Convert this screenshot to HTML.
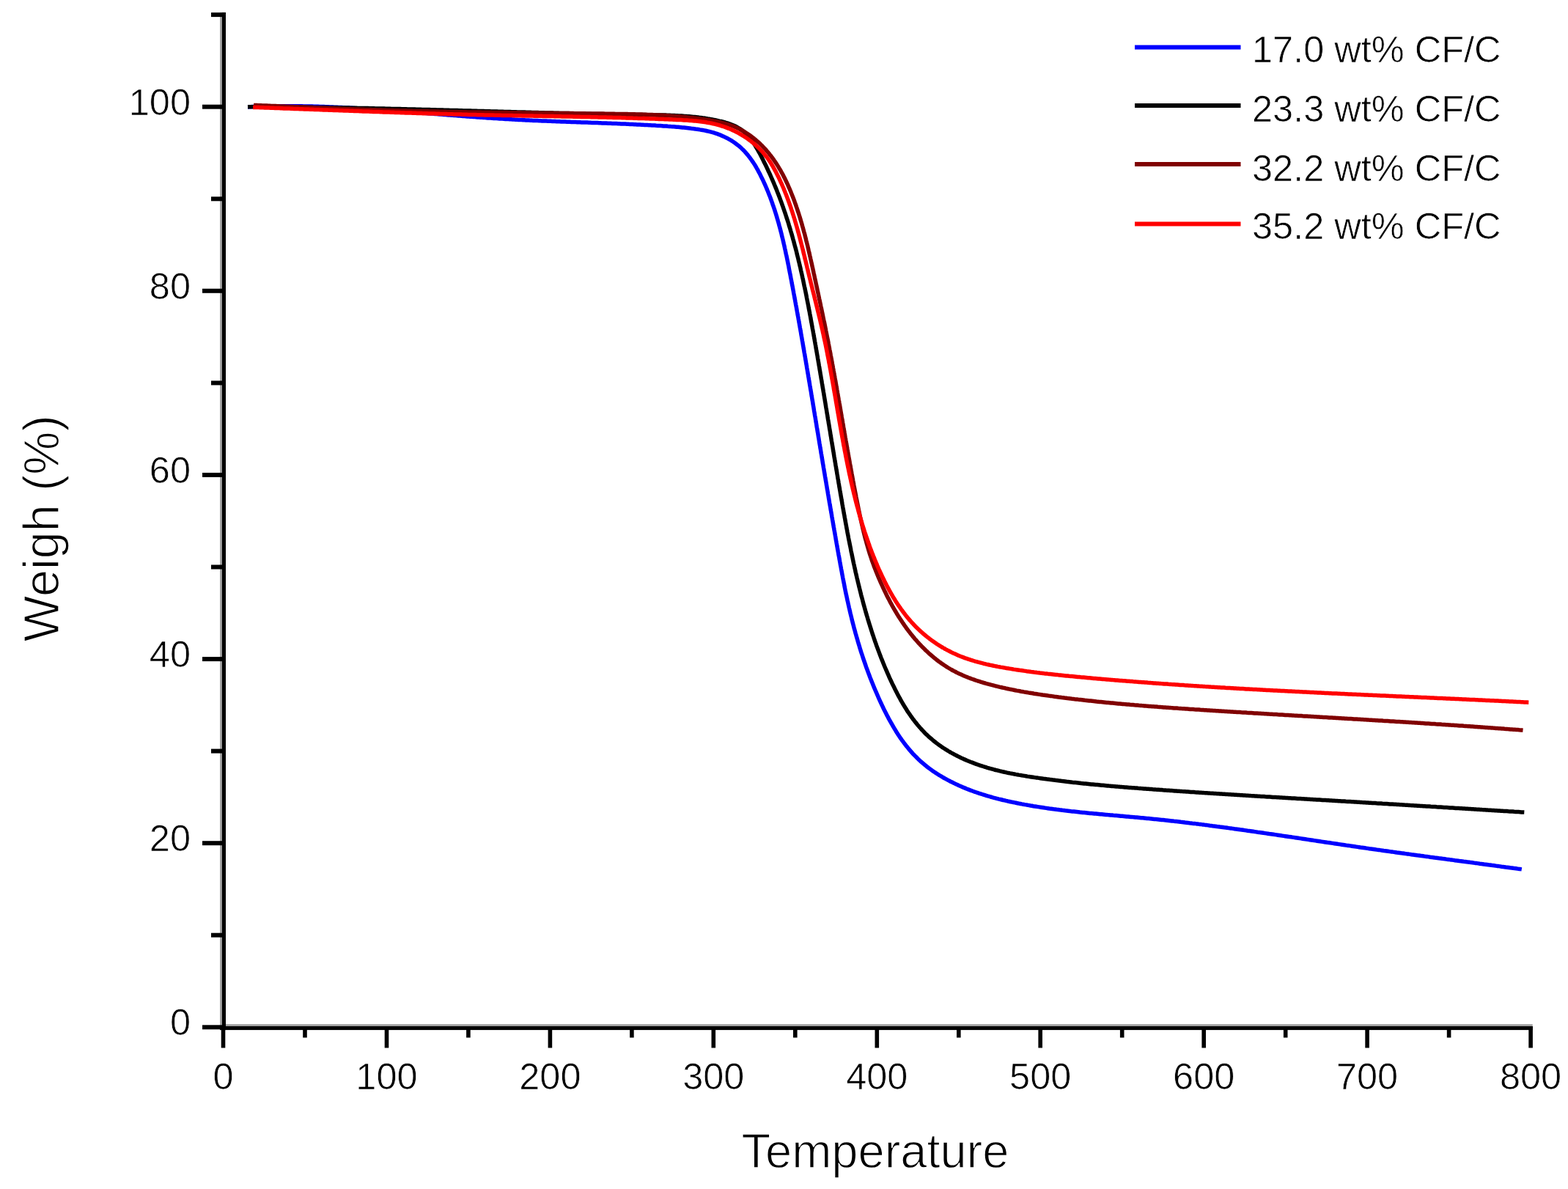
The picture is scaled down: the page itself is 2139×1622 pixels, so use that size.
<!DOCTYPE html>
<html><head><meta charset="utf-8"><title>TGA</title>
<style>
html,body{margin:0;padding:0;background:#fff;}
body{width:2139px;height:1622px;overflow:hidden;}
svg{display:block;}
text{font-family:"Liberation Sans",sans-serif;fill:#000;stroke:#fff;stroke-width:0.7px;paint-order:fill;}
</style></head><body>
<svg width="2139" height="1622" viewBox="0 0 2139 1622">
<rect width="2139" height="1622" fill="#fff"/>
<path d="M338.0 145.9 L340.0 145.8 L342.0 145.7 L344.0 145.6 L346.0 145.5 L348.0 145.4 L350.0 145.4 L352.0 145.3 L354.0 145.2 L356.0 145.2 L358.0 145.1 L360.0 145.1 L362.0 145.0 L364.0 145.0 L366.0 144.9 L368.0 144.9 L370.0 144.8 L372.0 144.8 L374.0 144.8 L376.0 144.8 L378.0 144.7 L380.0 144.7 L382.0 144.7 L384.0 144.7 L386.0 144.7 L388.0 144.7 L390.0 144.7 L392.0 144.7 L394.0 144.7 L396.0 144.7 L398.0 144.7 L400.0 144.7 L402.0 144.7 L404.0 144.7 L406.0 144.7 L408.0 144.8 L410.0 144.8 L412.0 144.8 L414.0 144.9 L416.0 144.9 L418.0 144.9 L420.0 145.0 L422.0 145.0 L424.0 145.1 L426.0 145.1 L428.0 145.2 L430.0 145.2 L432.0 145.3 L433.9 145.3 L435.9 145.4 L437.9 145.5 L439.9 145.5 L441.9 145.6 L443.9 145.7 L445.9 145.8 L447.9 145.8 L449.9 145.9 L451.9 146.0 L453.9 146.1 L455.9 146.2 L457.9 146.2 L459.9 146.3 L461.9 146.4 L463.9 146.5 L465.9 146.6 L467.9 146.7 L469.9 146.8 L471.9 146.9 L473.9 147.0 L475.9 147.1 L477.9 147.2 L479.9 147.3 L481.9 147.4 L483.9 147.6 L485.9 147.7 L487.9 147.8 L489.9 147.9 L491.9 148.0 L493.9 148.1 L495.9 148.3 L497.9 148.4 L499.9 148.5 L501.9 148.6 L503.9 148.8 L505.8 148.9 L507.8 149.0 L509.8 149.2 L511.8 149.3 L513.8 149.4 L515.8 149.6 L517.8 149.7 L519.8 149.8 L521.8 150.0 L523.8 150.1 L525.8 150.3 L527.8 150.4 L529.8 150.5 L531.8 150.7 L533.8 150.8 L535.8 151.0 L537.8 151.1 L539.8 151.3 L541.8 151.4 L543.8 151.6 L545.8 151.7 L547.8 151.9 L549.7 152.0 L551.7 152.2 L553.7 152.3 L555.7 152.5 L557.7 152.6 L559.7 152.8 L561.7 152.9 L563.7 153.1 L565.7 153.3 L567.7 153.4 L569.7 153.6 L571.7 153.7 L573.7 153.9 L575.7 154.0 L577.7 154.2 L579.7 154.3 L581.7 154.5 L583.7 154.7 L585.6 154.8 L587.6 155.0 L589.6 155.1 L591.6 155.3 L593.6 155.5 L595.6 155.6 L597.6 155.8 L599.6 155.9 L601.6 156.1 L603.6 156.2 L605.6 156.4 L607.6 156.6 L609.6 156.7 L611.6 156.9 L613.6 157.0 L615.6 157.2 L617.5 157.3 L619.5 157.5 L621.5 157.6 L623.5 157.8 L625.5 158.0 L627.5 158.1 L629.5 158.3 L631.5 158.4 L633.5 158.6 L635.5 158.7 L637.5 158.9 L639.5 159.0 L641.5 159.2 L643.5 159.3 L645.5 159.4 L647.4 159.6 L649.4 159.7 L651.4 159.9 L653.4 160.0 L655.4 160.2 L657.4 160.3 L659.4 160.4 L661.4 160.6 L663.4 160.7 L665.4 160.9 L667.4 161.0 L669.4 161.1 L671.4 161.3 L673.4 161.4 L675.4 161.5 L677.4 161.6 L679.4 161.8 L681.3 161.9 L683.3 162.0 L685.3 162.1 L687.3 162.3 L689.3 162.4 L691.3 162.5 L693.3 162.6 L695.3 162.7 L697.3 162.8 L699.3 163.0 L701.3 163.1 L703.3 163.2 L705.3 163.3 L707.3 163.4 L709.3 163.5 L711.3 163.6 L713.3 163.7 L715.3 163.8 L717.3 163.9 L719.3 164.0 L721.3 164.1 L723.3 164.2 L725.3 164.3 L727.2 164.4 L729.2 164.4 L731.2 164.5 L733.2 164.6 L735.2 164.7 L737.2 164.8 L739.2 164.9 L741.2 165.0 L743.2 165.0 L745.2 165.1 L747.2 165.2 L749.2 165.3 L751.2 165.3 L753.2 165.4 L755.2 165.5 L757.2 165.6 L759.2 165.7 L761.2 165.7 L763.2 165.8 L765.2 165.9 L767.2 165.9 L769.2 166.0 L771.2 166.1 L773.2 166.2 L775.2 166.2 L777.2 166.3 L779.2 166.4 L781.2 166.4 L783.2 166.5 L785.2 166.6 L787.2 166.7 L789.2 166.7 L791.2 166.8 L793.2 166.9 L795.2 166.9 L797.2 167.0 L799.2 167.1 L801.2 167.1 L803.2 167.2 L805.2 167.3 L807.2 167.4 L809.2 167.4 L811.2 167.5 L813.2 167.6 L815.2 167.6 L817.2 167.7 L819.2 167.8 L821.2 167.9 L823.2 167.9 L825.2 168.0 L827.2 168.1 L829.2 168.2 L831.2 168.2 L833.1 168.3 L835.1 168.4 L837.1 168.5 L839.1 168.5 L841.1 168.6 L843.1 168.7 L845.1 168.8 L847.1 168.9 L849.1 168.9 L851.1 169.0 L853.1 169.1 L855.1 169.2 L857.1 169.3 L859.1 169.4 L861.1 169.5 L863.1 169.6 L865.1 169.7 L867.1 169.8 L869.1 169.9 L871.1 170.0 L873.1 170.1 L875.1 170.2 L877.1 170.3 L879.1 170.4 L881.1 170.5 L883.1 170.6 L885.1 170.7 L887.1 170.8 L889.1 170.9 L891.1 171.0 L893.1 171.1 L895.1 171.3 L897.1 171.4 L899.1 171.5 L901.1 171.6 L903.1 171.7 L905.1 171.9 L907.1 172.0 L909.1 172.1 L911.1 172.3 L913.1 172.4 L915.1 172.6 L917.1 172.7 L919.1 172.8 L921.1 173.0 L923.1 173.2 L925.1 173.3 L927.1 173.5 L929.1 173.7 L931.1 173.9 L933.1 174.1 L935.0 174.3 L937.0 174.5 L939.0 174.7 L941.0 174.9 L943.0 175.2 L944.9 175.4 L946.9 175.7 L948.9 176.0 L950.8 176.2 L952.8 176.5 L954.8 176.9 L956.7 177.2 L958.7 177.5 L960.6 177.9 L962.6 178.3 L964.5 178.7 L966.4 179.1 L968.4 179.6 L970.3 180.1 L972.2 180.6 L974.1 181.2 L976.0 181.8 L977.9 182.4 L979.8 183.1 L981.7 183.8 L983.6 184.6 L985.4 185.4 L987.3 186.2 L989.1 187.1 L990.9 188.0 L992.7 188.9 L994.4 189.9 L996.2 190.9 L997.9 191.9 L999.6 193.0 L1001.3 194.1 L1002.9 195.3 L1004.5 196.5 L1006.1 197.7 L1007.7 198.9 L1009.2 200.2 L1010.7 201.5 L1012.1 202.9 L1013.6 204.3 L1015.0 205.7 L1016.3 207.1 L1017.6 208.6 L1018.9 210.1 L1020.2 211.6 L1021.4 213.2 L1022.7 214.8 L1023.8 216.3 L1025.0 218.0 L1026.1 219.6 L1027.3 221.3 L1028.3 222.9 L1029.4 224.6 L1030.5 226.3 L1031.5 228.0 L1032.5 229.8 L1033.5 231.5 L1034.4 233.3 L1035.4 235.1 L1036.3 236.8 L1037.2 238.6 L1038.1 240.4 L1039.0 242.2 L1039.9 244.0 L1040.8 245.9 L1041.6 247.7 L1042.4 249.5 L1043.3 251.3 L1044.1 253.1 L1044.9 255.0 L1045.7 256.8 L1046.4 258.7 L1047.2 260.5 L1048.0 262.4 L1048.7 264.2 L1049.4 266.1 L1050.2 267.9 L1050.9 269.8 L1051.6 271.7 L1052.2 273.5 L1052.9 275.4 L1053.6 277.3 L1054.2 279.2 L1054.9 281.0 L1055.5 282.9 L1056.2 284.8 L1056.8 286.7 L1057.4 288.6 L1058.0 290.5 L1058.6 292.4 L1059.2 294.3 L1059.7 296.2 L1060.3 298.1 L1060.9 300.1 L1061.4 302.0 L1062.0 303.9 L1062.5 305.8 L1063.0 307.7 L1063.6 309.7 L1064.1 311.6 L1064.6 313.5 L1065.1 315.5 L1065.6 317.4 L1066.1 319.3 L1066.5 321.3 L1067.0 323.2 L1067.5 325.2 L1068.0 327.1 L1068.4 329.0 L1068.9 331.0 L1069.3 332.9 L1069.8 334.9 L1070.2 336.8 L1070.6 338.8 L1071.1 340.8 L1071.5 342.7 L1071.9 344.7 L1072.3 346.6 L1072.8 348.6 L1073.2 350.5 L1073.6 352.5 L1074.0 354.5 L1074.4 356.4 L1074.8 358.4 L1075.2 360.4 L1075.6 362.3 L1076.0 364.3 L1076.3 366.3 L1076.7 368.2 L1077.1 370.2 L1077.5 372.2 L1077.9 374.1 L1078.3 376.1 L1078.6 378.1 L1079.0 380.0 L1079.4 382.0 L1079.8 384.0 L1080.1 385.9 L1080.5 387.9 L1080.9 389.9 L1081.3 391.8 L1081.6 393.8 L1082.0 395.8 L1082.4 397.8 L1082.7 399.7 L1083.1 401.7 L1083.5 403.7 L1083.8 405.6 L1084.2 407.6 L1084.6 409.6 L1084.9 411.5 L1085.3 413.5 L1085.6 415.5 L1086.0 417.4 L1086.4 419.4 L1086.7 421.4 L1087.1 423.4 L1087.4 425.3 L1087.8 427.3 L1088.1 429.3 L1088.5 431.2 L1088.9 433.2 L1089.2 435.2 L1089.6 437.1 L1089.9 439.1 L1090.3 441.1 L1090.6 443.1 L1091.0 445.0 L1091.3 447.0 L1091.7 449.0 L1092.0 450.9 L1092.4 452.9 L1092.7 454.9 L1093.0 456.9 L1093.4 458.8 L1093.7 460.8 L1094.1 462.8 L1094.4 464.7 L1094.8 466.7 L1095.1 468.7 L1095.4 470.6 L1095.8 472.6 L1096.1 474.6 L1096.5 476.6 L1096.8 478.5 L1097.1 480.5 L1097.5 482.5 L1097.8 484.4 L1098.2 486.4 L1098.5 488.4 L1098.8 490.4 L1099.2 492.3 L1099.5 494.3 L1099.8 496.3 L1100.2 498.2 L1100.5 500.2 L1100.8 502.2 L1101.2 504.2 L1101.5 506.1 L1101.8 508.1 L1102.2 510.1 L1102.5 512.0 L1102.8 514.0 L1103.2 516.0 L1103.5 518.0 L1103.8 519.9 L1104.2 521.9 L1104.5 523.9 L1104.8 525.8 L1105.2 527.8 L1105.5 529.8 L1105.8 531.8 L1106.2 533.7 L1106.5 535.7 L1106.8 537.7 L1107.1 539.6 L1107.5 541.6 L1107.8 543.6 L1108.1 545.6 L1108.5 547.5 L1108.8 549.5 L1109.1 551.5 L1109.4 553.4 L1109.8 555.4 L1110.1 557.4 L1110.4 559.4 L1110.7 561.3 L1111.1 563.3 L1111.4 565.3 L1111.7 567.2 L1112.1 569.2 L1112.4 571.2 L1112.7 573.2 L1113.0 575.1 L1113.4 577.1 L1113.7 579.1 L1114.0 581.1 L1114.3 583.0 L1114.7 585.0 L1115.0 587.0 L1115.3 588.9 L1115.7 590.9 L1116.0 592.9 L1116.3 594.8 L1116.6 596.8 L1117.0 598.8 L1117.3 600.8 L1117.6 602.7 L1117.9 604.7 L1118.3 606.7 L1118.6 608.6 L1118.9 610.6 L1119.3 612.6 L1119.6 614.6 L1119.9 616.5 L1120.2 618.5 L1120.6 620.5 L1120.9 622.4 L1121.2 624.4 L1121.6 626.4 L1121.9 628.4 L1122.2 630.3 L1122.5 632.3 L1122.9 634.3 L1123.2 636.2 L1123.5 638.2 L1123.9 640.2 L1124.2 642.2 L1124.5 644.1 L1124.9 646.1 L1125.2 648.1 L1125.5 650.0 L1125.9 652.0 L1126.2 654.0 L1126.5 655.9 L1126.9 657.9 L1127.2 659.9 L1127.5 661.9 L1127.9 663.8 L1128.2 665.8 L1128.5 667.8 L1128.9 669.7 L1129.2 671.7 L1129.5 673.7 L1129.9 675.7 L1130.2 677.6 L1130.5 679.6 L1130.9 681.6 L1131.2 683.5 L1131.5 685.5 L1131.9 687.5 L1132.2 689.4 L1132.6 691.4 L1132.9 693.4 L1133.2 695.4 L1133.6 697.3 L1133.9 699.3 L1134.3 701.3 L1134.6 703.2 L1134.9 705.2 L1135.3 707.2 L1135.6 709.2 L1136.0 711.1 L1136.3 713.1 L1136.6 715.1 L1137.0 717.0 L1137.3 719.0 L1137.7 721.0 L1138.0 723.0 L1138.4 724.9 L1138.7 726.9 L1139.1 728.9 L1139.4 730.8 L1139.8 732.8 L1140.1 734.8 L1140.4 736.8 L1140.8 738.7 L1141.1 740.7 L1141.5 742.7 L1141.8 744.6 L1142.2 746.6 L1142.5 748.6 L1142.9 750.6 L1143.2 752.5 L1143.6 754.5 L1143.9 756.5 L1144.3 758.4 L1144.7 760.4 L1145.0 762.4 L1145.4 764.4 L1145.7 766.3 L1146.1 768.3 L1146.4 770.3 L1146.8 772.2 L1147.2 774.2 L1147.5 776.2 L1147.9 778.1 L1148.3 780.1 L1148.6 782.1 L1149.0 784.1 L1149.4 786.0 L1149.7 788.0 L1150.1 790.0 L1150.5 791.9 L1150.9 793.9 L1151.3 795.9 L1151.7 797.8 L1152.0 799.8 L1152.4 801.7 L1152.8 803.7 L1153.2 805.7 L1153.6 807.6 L1154.0 809.6 L1154.4 811.5 L1154.9 813.5 L1155.3 815.5 L1155.7 817.4 L1156.1 819.4 L1156.6 821.3 L1157.0 823.3 L1157.4 825.2 L1157.9 827.2 L1158.3 829.1 L1158.8 831.1 L1159.2 833.0 L1159.7 835.0 L1160.1 836.9 L1160.6 838.8 L1161.1 840.8 L1161.6 842.7 L1162.0 844.7 L1162.5 846.6 L1163.0 848.5 L1163.5 850.5 L1164.0 852.4 L1164.5 854.3 L1165.0 856.3 L1165.5 858.2 L1166.1 860.1 L1166.6 862.0 L1167.1 864.0 L1167.7 865.9 L1168.2 867.8 L1168.8 869.7 L1169.3 871.6 L1169.9 873.5 L1170.4 875.5 L1171.0 877.4 L1171.6 879.3 L1172.2 881.2 L1172.7 883.1 L1173.3 885.0 L1173.9 886.9 L1174.5 888.8 L1175.1 890.7 L1175.8 892.6 L1176.4 894.5 L1177.0 896.4 L1177.6 898.3 L1178.3 900.2 L1178.9 902.1 L1179.6 903.9 L1180.2 905.8 L1180.9 907.7 L1181.5 909.6 L1182.2 911.5 L1182.9 913.3 L1183.6 915.2 L1184.3 917.1 L1185.0 919.0 L1185.7 920.8 L1186.4 922.7 L1187.1 924.6 L1187.8 926.4 L1188.6 928.3 L1189.3 930.2 L1190.1 932.0 L1190.8 933.9 L1191.6 935.7 L1192.3 937.6 L1193.1 939.4 L1193.9 941.3 L1194.7 943.1 L1195.5 944.9 L1196.3 946.8 L1197.1 948.6 L1197.9 950.5 L1198.7 952.3 L1199.5 954.1 L1200.3 956.0 L1201.2 957.8 L1202.0 959.6 L1202.9 961.4 L1203.8 963.2 L1204.6 965.1 L1205.5 966.9 L1206.4 968.7 L1207.3 970.5 L1208.2 972.3 L1209.1 974.1 L1210.0 975.9 L1211.0 977.7 L1211.9 979.4 L1212.8 981.2 L1213.8 983.0 L1214.8 984.7 L1215.8 986.5 L1216.8 988.2 L1217.8 990.0 L1218.8 991.7 L1219.8 993.4 L1220.8 995.1 L1221.9 996.8 L1222.9 998.5 L1224.0 1000.2 L1225.1 1001.9 L1226.2 1003.6 L1227.3 1005.2 L1228.4 1006.9 L1229.6 1008.5 L1230.7 1010.1 L1231.9 1011.7 L1233.1 1013.3 L1234.3 1014.9 L1235.5 1016.5 L1236.7 1018.0 L1238.0 1019.6 L1239.2 1021.1 L1240.5 1022.6 L1241.8 1024.1 L1243.1 1025.6 L1244.4 1027.1 L1245.7 1028.6 L1247.1 1030.0 L1248.5 1031.4 L1249.9 1032.8 L1251.3 1034.2 L1252.7 1035.6 L1254.1 1037.0 L1255.6 1038.3 L1257.1 1039.6 L1258.6 1040.9 L1260.1 1042.2 L1261.6 1043.5 L1263.1 1044.7 L1264.7 1046.0 L1266.3 1047.2 L1267.9 1048.4 L1269.5 1049.6 L1271.1 1050.7 L1272.8 1051.9 L1274.4 1053.0 L1276.1 1054.1 L1277.8 1055.2 L1279.4 1056.3 L1281.1 1057.4 L1282.9 1058.4 L1284.6 1059.4 L1286.3 1060.5 L1288.1 1061.5 L1289.8 1062.4 L1291.6 1063.4 L1293.4 1064.4 L1295.2 1065.3 L1296.9 1066.2 L1298.8 1067.1 L1300.6 1068.0 L1302.4 1068.9 L1304.2 1069.8 L1306.0 1070.6 L1307.9 1071.5 L1309.7 1072.3 L1311.5 1073.1 L1313.4 1073.9 L1315.2 1074.6 L1317.1 1075.4 L1319.0 1076.2 L1320.8 1076.9 L1322.7 1077.6 L1324.6 1078.3 L1326.5 1079.0 L1328.3 1079.7 L1330.2 1080.4 L1332.1 1081.0 L1334.0 1081.7 L1335.9 1082.3 L1337.8 1082.9 L1339.7 1083.5 L1341.6 1084.1 L1343.5 1084.7 L1345.4 1085.3 L1347.3 1085.9 L1349.3 1086.4 L1351.2 1087.0 L1353.1 1087.5 L1355.0 1088.1 L1357.0 1088.6 L1358.9 1089.1 L1360.8 1089.6 L1362.8 1090.1 L1364.7 1090.5 L1366.6 1091.0 L1368.6 1091.5 L1370.5 1091.9 L1372.5 1092.4 L1374.4 1092.8 L1376.4 1093.3 L1378.3 1093.7 L1380.3 1094.1 L1382.2 1094.5 L1384.2 1094.9 L1386.1 1095.3 L1388.1 1095.7 L1390.0 1096.1 L1392.0 1096.5 L1394.0 1096.9 L1395.9 1097.2 L1397.9 1097.6 L1399.8 1097.9 L1401.8 1098.3 L1403.8 1098.6 L1405.7 1099.0 L1407.7 1099.3 L1409.7 1099.7 L1411.6 1100.0 L1413.6 1100.3 L1415.6 1100.6 L1417.5 1100.9 L1419.5 1101.2 L1421.5 1101.5 L1423.5 1101.8 L1425.4 1102.1 L1427.4 1102.4 L1429.4 1102.7 L1431.4 1103.0 L1433.4 1103.2 L1435.3 1103.5 L1437.3 1103.8 L1439.3 1104.0 L1441.3 1104.3 L1443.3 1104.5 L1445.2 1104.8 L1447.2 1105.0 L1449.2 1105.3 L1451.2 1105.5 L1453.2 1105.8 L1455.2 1106.0 L1457.1 1106.2 L1459.1 1106.4 L1461.1 1106.7 L1463.1 1106.9 L1465.1 1107.1 L1467.1 1107.3 L1469.1 1107.5 L1471.1 1107.7 L1473.1 1108.0 L1475.0 1108.2 L1477.0 1108.4 L1479.0 1108.6 L1481.0 1108.8 L1483.0 1109.0 L1485.0 1109.2 L1487.0 1109.4 L1489.0 1109.5 L1491.0 1109.7 L1493.0 1109.9 L1495.0 1110.1 L1497.0 1110.3 L1499.0 1110.5 L1501.0 1110.7 L1502.9 1110.8 L1504.9 1111.0 L1506.9 1111.2 L1508.9 1111.4 L1510.9 1111.6 L1512.9 1111.7 L1514.9 1111.9 L1516.9 1112.1 L1518.9 1112.3 L1520.9 1112.4 L1522.9 1112.6 L1524.9 1112.8 L1526.9 1113.0 L1528.9 1113.2 L1530.9 1113.3 L1532.9 1113.5 L1534.9 1113.7 L1536.9 1113.9 L1538.9 1114.0 L1540.9 1114.2 L1542.9 1114.4 L1544.9 1114.6 L1546.9 1114.7 L1548.9 1114.9 L1550.8 1115.1 L1552.8 1115.3 L1554.8 1115.5 L1556.8 1115.7 L1558.8 1115.8 L1560.8 1116.0 L1562.8 1116.2 L1564.8 1116.4 L1566.8 1116.6 L1568.8 1116.8 L1570.8 1117.0 L1572.8 1117.2 L1574.8 1117.4 L1576.8 1117.6 L1578.8 1117.8 L1580.7 1118.0 L1582.7 1118.2 L1584.7 1118.4 L1586.7 1118.6 L1588.7 1118.8 L1590.7 1119.1 L1592.7 1119.3 L1594.7 1119.5 L1596.7 1119.7 L1598.7 1119.9 L1600.6 1120.1 L1602.6 1120.4 L1604.6 1120.6 L1606.6 1120.8 L1608.6 1121.0 L1610.6 1121.3 L1612.6 1121.5 L1614.6 1121.7 L1616.5 1122.0 L1618.5 1122.2 L1620.5 1122.4 L1622.5 1122.7 L1624.5 1122.9 L1626.5 1123.2 L1628.5 1123.4 L1630.4 1123.6 L1632.4 1123.9 L1634.4 1124.1 L1636.4 1124.4 L1638.4 1124.6 L1640.4 1124.9 L1642.3 1125.1 L1644.3 1125.4 L1646.3 1125.6 L1648.3 1125.9 L1650.3 1126.2 L1652.3 1126.4 L1654.2 1126.7 L1656.2 1126.9 L1658.2 1127.2 L1660.2 1127.5 L1662.2 1127.7 L1664.2 1128.0 L1666.1 1128.2 L1668.1 1128.5 L1670.1 1128.8 L1672.1 1129.0 L1674.1 1129.3 L1676.0 1129.6 L1678.0 1129.9 L1680.0 1130.1 L1682.0 1130.4 L1684.0 1130.7 L1685.9 1130.9 L1687.9 1131.2 L1689.9 1131.5 L1691.9 1131.8 L1693.9 1132.0 L1695.8 1132.3 L1697.8 1132.6 L1699.8 1132.9 L1701.8 1133.2 L1703.8 1133.4 L1705.7 1133.7 L1707.7 1134.0 L1709.7 1134.3 L1711.7 1134.6 L1713.6 1134.9 L1715.6 1135.2 L1717.6 1135.4 L1719.6 1135.7 L1721.6 1136.0 L1723.5 1136.3 L1725.5 1136.6 L1727.5 1136.9 L1729.5 1137.2 L1731.4 1137.5 L1733.4 1137.7 L1735.4 1138.0 L1737.4 1138.3 L1739.4 1138.6 L1741.3 1138.9 L1743.3 1139.2 L1745.3 1139.5 L1747.3 1139.8 L1749.2 1140.1 L1751.2 1140.4 L1753.2 1140.7 L1755.2 1141.0 L1757.1 1141.3 L1759.1 1141.6 L1761.1 1141.8 L1763.1 1142.1 L1765.1 1142.4 L1767.0 1142.7 L1769.0 1143.0 L1771.0 1143.3 L1773.0 1143.6 L1774.9 1143.9 L1776.9 1144.2 L1778.9 1144.5 L1780.9 1144.8 L1782.8 1145.1 L1784.8 1145.4 L1786.8 1145.7 L1788.8 1146.0 L1790.8 1146.3 L1792.7 1146.6 L1794.7 1146.9 L1796.7 1147.2 L1798.7 1147.5 L1800.6 1147.8 L1802.6 1148.1 L1804.6 1148.4 L1806.6 1148.7 L1808.5 1149.0 L1810.5 1149.3 L1812.5 1149.5 L1814.5 1149.8 L1816.5 1150.1 L1818.4 1150.4 L1820.4 1150.7 L1822.4 1151.0 L1824.4 1151.3 L1826.3 1151.6 L1828.3 1151.9 L1830.3 1152.2 L1832.3 1152.5 L1834.3 1152.8 L1836.2 1153.1 L1838.2 1153.4 L1840.2 1153.6 L1842.2 1153.9 L1844.1 1154.2 L1846.1 1154.5 L1848.1 1154.8 L1850.1 1155.1 L1852.1 1155.4 L1854.0 1155.7 L1856.0 1156.0 L1858.0 1156.2 L1860.0 1156.5 L1862.0 1156.8 L1863.9 1157.1 L1865.9 1157.4 L1867.9 1157.7 L1869.9 1157.9 L1871.9 1158.2 L1873.8 1158.5 L1875.8 1158.8 L1877.8 1159.1 L1879.8 1159.4 L1881.8 1159.6 L1883.7 1159.9 L1885.7 1160.2 L1887.7 1160.5 L1889.7 1160.7 L1891.7 1161.0 L1893.6 1161.3 L1895.6 1161.6 L1897.6 1161.9 L1899.6 1162.1 L1901.6 1162.4 L1903.6 1162.7 L1905.5 1163.0 L1907.5 1163.2 L1909.5 1163.5 L1911.5 1163.8 L1913.5 1164.0 L1915.4 1164.3 L1917.4 1164.6 L1919.4 1164.9 L1921.4 1165.1 L1923.4 1165.4 L1925.4 1165.7 L1927.3 1165.9 L1929.3 1166.2 L1931.3 1166.5 L1933.3 1166.8 L1935.3 1167.0 L1937.3 1167.3 L1939.2 1167.6 L1941.2 1167.8 L1943.2 1168.1 L1945.2 1168.4 L1947.2 1168.6 L1949.2 1168.9 L1951.1 1169.2 L1953.1 1169.4 L1955.1 1169.7 L1957.1 1170.0 L1959.1 1170.2 L1961.1 1170.5 L1963.0 1170.8 L1965.0 1171.0 L1967.0 1171.3 L1969.0 1171.6 L1971.0 1171.8 L1973.0 1172.1 L1974.9 1172.4 L1976.9 1172.6 L1978.9 1172.9 L1980.9 1173.1 L1982.9 1173.4 L1984.8 1173.7 L1986.8 1173.9 L1988.8 1174.2 L1990.8 1174.5 L1992.8 1174.7 L1994.8 1175.0 L1996.7 1175.3 L1998.7 1175.5 L2000.7 1175.8 L2002.7 1176.1 L2004.7 1176.3 L2006.7 1176.6 L2008.6 1176.8 L2010.6 1177.1 L2012.6 1177.4 L2014.6 1177.6 L2016.6 1177.9 L2018.6 1178.2 L2020.5 1178.4 L2022.5 1178.7 L2024.5 1179.0 L2026.5 1179.2 L2028.5 1179.5 L2030.4 1179.8 L2032.4 1180.0 L2034.4 1180.3 L2036.4 1180.6 L2038.4 1180.8 L2040.4 1181.1 L2042.3 1181.4 L2044.3 1181.6 L2046.3 1181.9 L2048.3 1182.2 L2050.3 1182.4 L2052.2 1182.7 L2054.2 1183.0 L2056.2 1183.2 L2058.2 1183.5 L2060.2 1183.8 L2062.1 1184.0 L2064.1 1184.3 L2066.1 1184.6 L2068.1 1184.8 L2070.1 1185.1 L2072.0 1185.4 L2074.0 1185.6 L2075.8 1185.9" fill="none" stroke="#0000ff" stroke-width="5.5" stroke-linejoin="round" stroke-linecap="butt"/>
<path d="M338.0 145.7 L340.0 145.7 L342.0 145.7 L344.0 145.7 L346.0 145.7 L348.0 145.7 L350.0 145.7 L352.0 145.7 L354.0 145.8 L356.0 145.8 L358.0 145.8 L360.0 145.8 L362.0 145.8 L364.0 145.8 L366.0 145.8 L368.0 145.8 L370.0 145.8 L372.0 145.8 L374.0 145.8 L376.0 145.9 L378.0 145.9 L380.0 145.9 L382.0 145.9 L384.0 145.9 L386.0 145.9 L388.0 145.9 L390.0 146.0 L392.0 146.0 L394.0 146.0 L396.0 146.0 L398.0 146.0 L400.0 146.0 L402.0 146.1 L404.0 146.1 L406.0 146.1 L408.0 146.1 L410.0 146.1 L412.0 146.2 L414.0 146.2 L416.0 146.2 L418.0 146.2 L420.0 146.3 L422.0 146.3 L424.0 146.3 L426.0 146.3 L428.0 146.4 L430.0 146.4 L432.0 146.4 L434.0 146.4 L436.0 146.5 L438.0 146.5 L440.0 146.5 L442.0 146.6 L444.0 146.6 L446.0 146.6 L448.0 146.7 L450.0 146.7 L452.0 146.7 L454.0 146.7 L456.0 146.8 L458.0 146.8 L460.0 146.8 L462.0 146.9 L464.0 146.9 L466.0 147.0 L468.0 147.0 L470.0 147.0 L472.0 147.1 L474.0 147.1 L476.0 147.1 L478.0 147.2 L480.0 147.2 L482.0 147.2 L484.0 147.3 L486.0 147.3 L488.0 147.4 L490.0 147.4 L492.0 147.4 L494.0 147.5 L496.0 147.5 L498.0 147.6 L500.0 147.6 L502.0 147.6 L504.0 147.7 L506.0 147.7 L508.0 147.8 L510.0 147.8 L512.0 147.9 L514.0 147.9 L516.0 147.9 L518.0 148.0 L520.0 148.0 L522.0 148.1 L524.0 148.1 L526.0 148.2 L528.0 148.2 L530.0 148.3 L532.0 148.3 L534.0 148.4 L536.0 148.4 L538.0 148.4 L540.0 148.5 L542.0 148.5 L544.0 148.6 L546.0 148.6 L548.0 148.7 L550.0 148.7 L552.0 148.8 L554.0 148.8 L556.0 148.9 L557.9 148.9 L559.9 149.0 L561.9 149.0 L563.9 149.1 L565.9 149.1 L567.9 149.2 L569.9 149.2 L571.9 149.3 L573.9 149.3 L575.9 149.4 L577.9 149.4 L579.9 149.5 L581.9 149.5 L583.9 149.6 L585.9 149.6 L587.9 149.7 L589.9 149.7 L591.9 149.8 L593.9 149.8 L595.9 149.9 L597.9 149.9 L599.9 150.0 L601.9 150.1 L603.9 150.1 L605.9 150.2 L607.9 150.2 L609.9 150.3 L611.9 150.3 L613.9 150.4 L615.9 150.4 L617.9 150.5 L619.9 150.5 L621.9 150.6 L623.9 150.6 L625.9 150.7 L627.9 150.8 L629.9 150.8 L631.9 150.9 L633.9 150.9 L635.9 151.0 L637.9 151.0 L639.9 151.1 L641.9 151.1 L643.9 151.2 L645.9 151.2 L647.9 151.3 L649.9 151.3 L651.9 151.4 L653.9 151.5 L655.9 151.5 L657.9 151.6 L659.9 151.6 L661.9 151.7 L663.9 151.7 L665.9 151.8 L667.9 151.8 L669.9 151.9 L671.9 151.9 L673.9 152.0 L675.9 152.1 L677.9 152.1 L679.9 152.2 L681.9 152.2 L683.9 152.3 L685.9 152.3 L687.9 152.4 L689.9 152.4 L691.9 152.5 L693.9 152.5 L695.9 152.6 L697.9 152.7 L699.9 152.7 L701.9 152.8 L703.9 152.8 L705.9 152.9 L707.9 152.9 L709.9 153.0 L711.9 153.0 L713.9 153.1 L715.9 153.1 L717.9 153.2 L719.8 153.2 L721.8 153.3 L723.8 153.3 L725.8 153.4 L727.8 153.4 L729.8 153.5 L731.8 153.5 L733.8 153.6 L735.8 153.7 L737.8 153.7 L739.8 153.8 L741.8 153.8 L743.8 153.9 L745.8 153.9 L747.8 154.0 L749.8 154.0 L751.8 154.1 L753.8 154.1 L755.8 154.2 L757.8 154.2 L759.8 154.3 L761.8 154.3 L763.8 154.4 L765.8 154.4 L767.8 154.4 L769.8 154.5 L771.8 154.5 L773.8 154.6 L775.8 154.6 L777.8 154.7 L779.8 154.7 L781.8 154.8 L783.8 154.8 L785.8 154.9 L787.8 154.9 L789.8 155.0 L791.8 155.0 L793.8 155.1 L795.8 155.1 L797.8 155.1 L799.8 155.2 L801.8 155.2 L803.8 155.3 L805.8 155.3 L807.8 155.4 L809.8 155.4 L811.8 155.4 L813.8 155.5 L815.8 155.5 L817.8 155.6 L819.8 155.6 L821.8 155.6 L823.9 155.7 L825.9 155.7 L827.9 155.8 L829.9 155.8 L831.9 155.8 L833.9 155.9 L835.9 155.9 L837.9 156.0 L839.9 156.0 L841.9 156.0 L843.9 156.1 L845.9 156.1 L847.9 156.1 L849.9 156.2 L851.9 156.2 L853.9 156.2 L855.9 156.3 L857.9 156.3 L859.9 156.3 L861.9 156.4 L863.9 156.4 L865.9 156.4 L867.9 156.5 L869.9 156.5 L871.9 156.5 L873.9 156.6 L875.9 156.6 L877.9 156.6 L879.9 156.6 L881.9 156.7 L883.9 156.7 L885.9 156.7 L887.9 156.8 L889.9 156.8 L891.9 156.8 L893.9 156.8 L895.9 156.9 L897.9 156.9 L899.9 157.0 L901.9 157.0 L903.9 157.0 L905.9 157.1 L907.9 157.1 L909.9 157.2 L911.9 157.3 L913.9 157.3 L915.9 157.4 L917.9 157.5 L919.9 157.6 L921.9 157.7 L923.9 157.8 L925.9 157.9 L927.9 158.0 L929.9 158.1 L931.9 158.2 L933.9 158.4 L935.9 158.5 L937.9 158.7 L939.8 158.8 L941.8 159.0 L943.8 159.2 L945.8 159.4 L947.8 159.6 L949.8 159.8 L951.8 160.0 L953.8 160.3 L955.7 160.5 L957.7 160.8 L959.7 161.1 L961.7 161.3 L963.7 161.6 L965.6 162.0 L967.6 162.3 L969.6 162.6 L971.5 163.0 L973.5 163.4 L975.5 163.8 L977.5 164.2 L979.4 164.6 L981.4 165.1 L983.4 165.5 L985.3 166.0 L987.3 166.5 L989.2 167.0 L991.1 167.6 L993.0 168.2 L994.9 168.8 L996.8 169.5 L998.6 170.2 L1000.5 171.0 L1002.2 171.8 L1004.0 172.6 L1005.7 173.5 L1007.4 174.5 L1009.1 175.5 L1010.7 176.6 L1012.3 177.7 L1013.8 178.9 L1015.3 180.2 L1016.7 181.5 L1018.1 182.9 L1019.5 184.3 L1020.8 185.8 L1022.1 187.3 L1023.4 188.9 L1024.6 190.5 L1025.8 192.1 L1026.9 193.8 L1028.1 195.4 L1029.2 197.1 L1030.3 198.8 L1031.3 200.5 L1032.4 202.3 L1033.4 204.0 L1034.4 205.8 L1035.4 207.6 L1036.4 209.3 L1037.3 211.1 L1038.3 212.9 L1039.2 214.7 L1040.1 216.5 L1041.0 218.4 L1041.9 220.2 L1042.8 222.0 L1043.7 223.8 L1044.6 225.6 L1045.5 227.4 L1046.3 229.2 L1047.2 231.0 L1048.0 232.9 L1048.9 234.7 L1049.7 236.5 L1050.6 238.3 L1051.4 240.2 L1052.2 242.0 L1053.0 243.8 L1053.8 245.6 L1054.6 247.5 L1055.4 249.3 L1056.1 251.1 L1056.9 253.0 L1057.7 254.8 L1058.4 256.7 L1059.2 258.5 L1059.9 260.4 L1060.6 262.2 L1061.4 264.1 L1062.1 265.9 L1062.8 267.8 L1063.5 269.6 L1064.2 271.5 L1064.9 273.4 L1065.6 275.2 L1066.3 277.1 L1066.9 279.0 L1067.6 280.9 L1068.3 282.7 L1068.9 284.6 L1069.6 286.5 L1070.2 288.4 L1070.9 290.3 L1071.5 292.1 L1072.1 294.0 L1072.7 295.9 L1073.3 297.8 L1074.0 299.7 L1074.6 301.6 L1075.2 303.5 L1075.8 305.4 L1076.3 307.3 L1076.9 309.2 L1077.5 311.1 L1078.1 313.0 L1078.6 315.0 L1079.2 316.9 L1079.8 318.8 L1080.3 320.7 L1080.9 322.6 L1081.4 324.5 L1081.9 326.5 L1082.5 328.4 L1083.0 330.3 L1083.5 332.2 L1084.0 334.2 L1084.5 336.1 L1085.1 338.0 L1085.6 340.0 L1086.1 341.9 L1086.6 343.8 L1087.0 345.8 L1087.5 347.7 L1088.0 349.6 L1088.5 351.6 L1089.0 353.5 L1089.4 355.5 L1089.9 357.4 L1090.4 359.4 L1090.8 361.3 L1091.3 363.2 L1091.8 365.2 L1092.2 367.1 L1092.6 369.1 L1093.1 371.1 L1093.5 373.0 L1094.0 375.0 L1094.4 376.9 L1094.8 378.9 L1095.3 380.8 L1095.7 382.8 L1096.1 384.7 L1096.5 386.7 L1096.9 388.7 L1097.3 390.6 L1097.8 392.6 L1098.2 394.6 L1098.6 396.5 L1099.0 398.5 L1099.4 400.4 L1099.8 402.4 L1100.2 404.4 L1100.5 406.3 L1100.9 408.3 L1101.3 410.3 L1101.7 412.3 L1102.1 414.2 L1102.5 416.2 L1102.9 418.2 L1103.2 420.1 L1103.6 422.1 L1104.0 424.1 L1104.4 426.0 L1104.7 428.0 L1105.1 430.0 L1105.5 432.0 L1105.8 433.9 L1106.2 435.9 L1106.5 437.9 L1106.9 439.9 L1107.3 441.8 L1107.6 443.8 L1108.0 445.8 L1108.3 447.7 L1108.7 449.7 L1109.1 451.7 L1109.4 453.7 L1109.8 455.6 L1110.1 457.6 L1110.5 459.6 L1110.8 461.6 L1111.2 463.5 L1111.5 465.5 L1111.9 467.5 L1112.2 469.5 L1112.6 471.4 L1112.9 473.4 L1113.2 475.4 L1113.6 477.3 L1113.9 479.3 L1114.3 481.3 L1114.6 483.3 L1115.0 485.2 L1115.3 487.2 L1115.6 489.2 L1116.0 491.1 L1116.3 493.1 L1116.7 495.1 L1117.0 497.1 L1117.3 499.0 L1117.7 501.0 L1118.0 503.0 L1118.3 504.9 L1118.7 506.9 L1119.0 508.9 L1119.3 510.9 L1119.7 512.8 L1120.0 514.8 L1120.3 516.8 L1120.7 518.7 L1121.0 520.7 L1121.3 522.7 L1121.7 524.7 L1122.0 526.6 L1122.3 528.6 L1122.7 530.6 L1123.0 532.5 L1123.3 534.5 L1123.7 536.5 L1124.0 538.5 L1124.3 540.4 L1124.6 542.4 L1125.0 544.4 L1125.3 546.3 L1125.6 548.3 L1126.0 550.3 L1126.3 552.3 L1126.6 554.2 L1126.9 556.2 L1127.3 558.2 L1127.6 560.1 L1127.9 562.1 L1128.2 564.1 L1128.6 566.0 L1128.9 568.0 L1129.2 570.0 L1129.5 572.0 L1129.9 573.9 L1130.2 575.9 L1130.5 577.9 L1130.9 579.8 L1131.2 581.8 L1131.5 583.8 L1131.8 585.8 L1132.2 587.7 L1132.5 589.7 L1132.8 591.7 L1133.1 593.6 L1133.5 595.6 L1133.8 597.6 L1134.1 599.5 L1134.4 601.5 L1134.8 603.5 L1135.1 605.5 L1135.4 607.4 L1135.8 609.4 L1136.1 611.4 L1136.4 613.3 L1136.7 615.3 L1137.1 617.3 L1137.4 619.2 L1137.7 621.2 L1138.0 623.2 L1138.4 625.2 L1138.7 627.1 L1139.0 629.1 L1139.4 631.1 L1139.7 633.0 L1140.0 635.0 L1140.4 637.0 L1140.7 639.0 L1141.0 640.9 L1141.4 642.9 L1141.7 644.9 L1142.0 646.8 L1142.4 648.8 L1142.7 650.8 L1143.0 652.7 L1143.4 654.7 L1143.7 656.7 L1144.0 658.7 L1144.4 660.6 L1144.7 662.6 L1145.0 664.6 L1145.4 666.5 L1145.7 668.5 L1146.1 670.5 L1146.4 672.5 L1146.7 674.4 L1147.1 676.4 L1147.4 678.4 L1147.8 680.3 L1148.1 682.3 L1148.5 684.3 L1148.8 686.3 L1149.1 688.2 L1149.5 690.2 L1149.8 692.2 L1150.2 694.1 L1150.5 696.1 L1150.9 698.1 L1151.2 700.1 L1151.6 702.0 L1152.0 704.0 L1152.3 706.0 L1152.7 707.9 L1153.0 709.9 L1153.4 711.9 L1153.7 713.9 L1154.1 715.8 L1154.5 717.8 L1154.8 719.8 L1155.2 721.7 L1155.6 723.7 L1155.9 725.7 L1156.3 727.6 L1156.7 729.6 L1157.1 731.6 L1157.4 733.5 L1157.8 735.5 L1158.2 737.5 L1158.6 739.4 L1159.0 741.4 L1159.4 743.4 L1159.8 745.3 L1160.2 747.3 L1160.6 749.2 L1160.9 751.2 L1161.3 753.2 L1161.8 755.1 L1162.2 757.1 L1162.6 759.1 L1163.0 761.0 L1163.4 763.0 L1163.8 764.9 L1164.2 766.9 L1164.6 768.8 L1165.1 770.8 L1165.5 772.7 L1165.9 774.7 L1166.4 776.6 L1166.8 778.6 L1167.2 780.6 L1167.7 782.5 L1168.1 784.5 L1168.6 786.4 L1169.0 788.3 L1169.5 790.3 L1170.0 792.2 L1170.4 794.2 L1170.9 796.1 L1171.4 798.1 L1171.8 800.0 L1172.3 801.9 L1172.8 803.9 L1173.3 805.8 L1173.8 807.8 L1174.3 809.7 L1174.7 811.6 L1175.2 813.6 L1175.8 815.5 L1176.3 817.4 L1176.8 819.4 L1177.3 821.3 L1177.8 823.2 L1178.3 825.1 L1178.9 827.1 L1179.4 829.0 L1179.9 830.9 L1180.5 832.8 L1181.0 834.8 L1181.6 836.7 L1182.1 838.6 L1182.7 840.5 L1183.3 842.4 L1183.8 844.3 L1184.4 846.2 L1185.0 848.1 L1185.6 850.1 L1186.2 852.0 L1186.8 853.9 L1187.4 855.8 L1188.0 857.7 L1188.6 859.6 L1189.2 861.5 L1189.8 863.4 L1190.4 865.3 L1191.1 867.2 L1191.7 869.0 L1192.3 870.9 L1193.0 872.8 L1193.6 874.7 L1194.3 876.6 L1195.0 878.5 L1195.6 880.4 L1196.3 882.2 L1197.0 884.1 L1197.7 886.0 L1198.4 887.9 L1199.1 889.7 L1199.8 891.6 L1200.5 893.5 L1201.2 895.3 L1201.9 897.2 L1202.7 899.1 L1203.4 900.9 L1204.2 902.8 L1204.9 904.6 L1205.7 906.5 L1206.4 908.3 L1207.2 910.2 L1208.0 912.0 L1208.8 913.9 L1209.6 915.7 L1210.4 917.6 L1211.2 919.4 L1212.0 921.2 L1212.8 923.1 L1213.6 924.9 L1214.5 926.7 L1215.3 928.6 L1216.2 930.4 L1217.0 932.2 L1217.9 934.0 L1218.8 935.8 L1219.7 937.6 L1220.6 939.4 L1221.5 941.2 L1222.4 943.0 L1223.3 944.8 L1224.2 946.6 L1225.2 948.4 L1226.1 950.2 L1227.1 951.9 L1228.1 953.7 L1229.0 955.5 L1230.0 957.2 L1231.0 958.9 L1232.1 960.7 L1233.1 962.4 L1234.1 964.1 L1235.2 965.8 L1236.3 967.5 L1237.3 969.2 L1238.4 970.9 L1239.5 972.5 L1240.7 974.2 L1241.8 975.8 L1242.9 977.4 L1244.1 979.0 L1245.3 980.7 L1246.5 982.2 L1247.7 983.8 L1248.9 985.4 L1250.2 986.9 L1251.4 988.5 L1252.7 990.0 L1254.0 991.5 L1255.3 993.0 L1256.6 994.4 L1257.9 995.9 L1259.3 997.3 L1260.6 998.8 L1262.0 1000.2 L1263.4 1001.6 L1264.9 1002.9 L1266.3 1004.3 L1267.8 1005.6 L1269.3 1006.9 L1270.8 1008.2 L1272.3 1009.5 L1273.8 1010.8 L1275.4 1012.0 L1276.9 1013.2 L1278.5 1014.4 L1280.1 1015.6 L1281.7 1016.8 L1283.4 1017.9 L1285.0 1019.1 L1286.7 1020.2 L1288.4 1021.3 L1290.1 1022.4 L1291.8 1023.4 L1293.5 1024.5 L1295.2 1025.5 L1297.0 1026.5 L1298.7 1027.5 L1300.5 1028.4 L1302.2 1029.4 L1304.0 1030.3 L1305.8 1031.2 L1307.6 1032.1 L1309.4 1033.0 L1311.3 1033.9 L1313.1 1034.7 L1314.9 1035.6 L1316.8 1036.4 L1318.6 1037.2 L1320.5 1038.0 L1322.3 1038.7 L1324.2 1039.5 L1326.1 1040.2 L1327.9 1040.9 L1329.8 1041.6 L1331.7 1042.3 L1333.6 1043.0 L1335.5 1043.7 L1337.4 1044.3 L1339.3 1044.9 L1341.2 1045.5 L1343.1 1046.1 L1345.0 1046.7 L1346.9 1047.3 L1348.8 1047.8 L1350.7 1048.4 L1352.6 1048.9 L1354.6 1049.4 L1356.5 1050.0 L1358.4 1050.5 L1360.4 1050.9 L1362.3 1051.4 L1364.2 1051.9 L1366.2 1052.3 L1368.1 1052.8 L1370.1 1053.2 L1372.0 1053.6 L1374.0 1054.1 L1375.9 1054.5 L1377.9 1054.9 L1379.9 1055.2 L1381.8 1055.6 L1383.8 1056.0 L1385.7 1056.4 L1387.7 1056.7 L1389.7 1057.1 L1391.7 1057.4 L1393.6 1057.8 L1395.6 1058.1 L1397.6 1058.4 L1399.5 1058.7 L1401.5 1059.1 L1403.5 1059.4 L1405.5 1059.7 L1407.4 1060.0 L1409.4 1060.3 L1411.4 1060.6 L1413.4 1060.9 L1415.4 1061.1 L1417.3 1061.4 L1419.3 1061.7 L1421.3 1062.0 L1423.3 1062.3 L1425.3 1062.5 L1427.3 1062.8 L1429.2 1063.1 L1431.2 1063.3 L1433.2 1063.6 L1435.2 1063.8 L1437.2 1064.1 L1439.1 1064.3 L1441.1 1064.6 L1443.1 1064.8 L1445.1 1065.1 L1447.1 1065.3 L1449.1 1065.6 L1451.1 1065.8 L1453.0 1066.0 L1455.0 1066.3 L1457.0 1066.5 L1459.0 1066.7 L1461.0 1066.9 L1463.0 1067.2 L1465.0 1067.4 L1467.0 1067.6 L1468.9 1067.8 L1470.9 1068.0 L1472.9 1068.2 L1474.9 1068.5 L1476.9 1068.7 L1478.9 1068.9 L1480.9 1069.1 L1482.9 1069.3 L1484.9 1069.5 L1486.8 1069.7 L1488.8 1069.9 L1490.8 1070.0 L1492.8 1070.2 L1494.8 1070.4 L1496.8 1070.6 L1498.8 1070.8 L1500.8 1071.0 L1502.8 1071.2 L1504.8 1071.3 L1506.8 1071.5 L1508.7 1071.7 L1510.7 1071.9 L1512.7 1072.1 L1514.7 1072.2 L1516.7 1072.4 L1518.7 1072.6 L1520.7 1072.7 L1522.7 1072.9 L1524.7 1073.1 L1526.7 1073.2 L1528.7 1073.4 L1530.7 1073.6 L1532.7 1073.7 L1534.6 1073.9 L1536.6 1074.0 L1538.6 1074.2 L1540.6 1074.4 L1542.6 1074.5 L1544.6 1074.7 L1546.6 1074.8 L1548.6 1075.0 L1550.6 1075.1 L1552.6 1075.3 L1554.6 1075.4 L1556.6 1075.6 L1558.6 1075.7 L1560.6 1075.9 L1562.6 1076.0 L1564.6 1076.2 L1566.6 1076.3 L1568.6 1076.5 L1570.5 1076.6 L1572.5 1076.8 L1574.5 1076.9 L1576.5 1077.1 L1578.5 1077.2 L1580.5 1077.3 L1582.5 1077.5 L1584.5 1077.6 L1586.5 1077.8 L1588.5 1077.9 L1590.5 1078.1 L1592.5 1078.2 L1594.5 1078.3 L1596.5 1078.5 L1598.5 1078.6 L1600.5 1078.7 L1602.5 1078.9 L1604.5 1079.0 L1606.5 1079.2 L1608.5 1079.3 L1610.4 1079.4 L1612.4 1079.6 L1614.4 1079.7 L1616.4 1079.8 L1618.4 1080.0 L1620.4 1080.1 L1622.4 1080.2 L1624.4 1080.4 L1626.4 1080.5 L1628.4 1080.6 L1630.4 1080.8 L1632.4 1080.9 L1634.4 1081.0 L1636.4 1081.2 L1638.4 1081.3 L1640.4 1081.4 L1642.4 1081.6 L1644.4 1081.7 L1646.4 1081.8 L1648.4 1081.9 L1650.4 1082.1 L1652.4 1082.2 L1654.4 1082.3 L1656.3 1082.5 L1658.3 1082.6 L1660.3 1082.7 L1662.3 1082.8 L1664.3 1083.0 L1666.3 1083.1 L1668.3 1083.2 L1670.3 1083.3 L1672.3 1083.5 L1674.3 1083.6 L1676.3 1083.7 L1678.3 1083.8 L1680.3 1084.0 L1682.3 1084.1 L1684.3 1084.2 L1686.3 1084.3 L1688.3 1084.5 L1690.3 1084.6 L1692.3 1084.7 L1694.3 1084.8 L1696.3 1085.0 L1698.3 1085.1 L1700.3 1085.2 L1702.3 1085.3 L1704.3 1085.4 L1706.3 1085.6 L1708.2 1085.7 L1710.2 1085.8 L1712.2 1085.9 L1714.2 1086.0 L1716.2 1086.2 L1718.2 1086.3 L1720.2 1086.4 L1722.2 1086.5 L1724.2 1086.6 L1726.2 1086.8 L1728.2 1086.9 L1730.2 1087.0 L1732.2 1087.1 L1734.2 1087.2 L1736.2 1087.4 L1738.2 1087.5 L1740.2 1087.6 L1742.2 1087.7 L1744.2 1087.8 L1746.2 1088.0 L1748.2 1088.1 L1750.2 1088.2 L1752.2 1088.3 L1754.2 1088.4 L1756.2 1088.5 L1758.2 1088.7 L1760.2 1088.8 L1762.2 1088.9 L1764.1 1089.0 L1766.1 1089.1 L1768.1 1089.2 L1770.1 1089.4 L1772.1 1089.5 L1774.1 1089.6 L1776.1 1089.7 L1778.1 1089.8 L1780.1 1090.0 L1782.1 1090.1 L1784.1 1090.2 L1786.1 1090.3 L1788.1 1090.4 L1790.1 1090.5 L1792.1 1090.7 L1794.1 1090.8 L1796.1 1090.9 L1798.1 1091.0 L1800.1 1091.1 L1802.1 1091.2 L1804.1 1091.4 L1806.1 1091.5 L1808.1 1091.6 L1810.1 1091.7 L1812.1 1091.8 L1814.1 1092.0 L1816.1 1092.1 L1818.1 1092.2 L1820.0 1092.3 L1822.0 1092.4 L1824.0 1092.5 L1826.0 1092.7 L1828.0 1092.8 L1830.0 1092.9 L1832.0 1093.0 L1834.0 1093.1 L1836.0 1093.3 L1838.0 1093.4 L1840.0 1093.5 L1842.0 1093.6 L1844.0 1093.7 L1846.0 1093.8 L1848.0 1094.0 L1850.0 1094.1 L1852.0 1094.2 L1854.0 1094.3 L1856.0 1094.4 L1858.0 1094.6 L1860.0 1094.7 L1862.0 1094.8 L1864.0 1094.9 L1866.0 1095.0 L1868.0 1095.2 L1870.0 1095.3 L1871.9 1095.4 L1873.9 1095.5 L1875.9 1095.6 L1877.9 1095.8 L1879.9 1095.9 L1881.9 1096.0 L1883.9 1096.1 L1885.9 1096.3 L1887.9 1096.4 L1889.9 1096.5 L1891.9 1096.6 L1893.9 1096.7 L1895.9 1096.9 L1897.9 1097.0 L1899.9 1097.1 L1901.9 1097.2 L1903.9 1097.3 L1905.9 1097.5 L1907.9 1097.6 L1909.9 1097.7 L1911.9 1097.8 L1913.9 1097.9 L1915.9 1098.1 L1917.9 1098.2 L1919.9 1098.3 L1921.9 1098.4 L1923.8 1098.6 L1925.8 1098.7 L1927.8 1098.8 L1929.8 1098.9 L1931.8 1099.0 L1933.8 1099.2 L1935.8 1099.3 L1937.8 1099.4 L1939.8 1099.5 L1941.8 1099.7 L1943.8 1099.8 L1945.8 1099.9 L1947.8 1100.0 L1949.8 1100.1 L1951.8 1100.3 L1953.8 1100.4 L1955.8 1100.5 L1957.8 1100.6 L1959.8 1100.8 L1961.8 1100.9 L1963.8 1101.0 L1965.8 1101.1 L1967.8 1101.2 L1969.8 1101.4 L1971.8 1101.5 L1973.7 1101.6 L1975.7 1101.7 L1977.7 1101.9 L1979.7 1102.0 L1981.7 1102.1 L1983.7 1102.2 L1985.7 1102.4 L1987.7 1102.5 L1989.7 1102.6 L1991.7 1102.7 L1993.7 1102.8 L1995.7 1103.0 L1997.7 1103.1 L1999.7 1103.2 L2001.7 1103.3 L2003.7 1103.5 L2005.7 1103.6 L2007.7 1103.7 L2009.7 1103.8 L2011.7 1103.9 L2013.7 1104.1 L2015.7 1104.2 L2017.7 1104.3 L2019.7 1104.4 L2021.7 1104.6 L2023.6 1104.7 L2025.6 1104.8 L2027.6 1104.9 L2029.6 1105.1 L2031.6 1105.2 L2033.6 1105.3 L2035.6 1105.4 L2037.6 1105.5 L2039.6 1105.7 L2041.6 1105.8 L2043.6 1105.9 L2045.6 1106.0 L2047.6 1106.2 L2049.6 1106.3 L2051.6 1106.4 L2053.6 1106.5 L2055.6 1106.6 L2057.6 1106.8 L2059.6 1106.9 L2061.6 1107.0 L2063.6 1107.1 L2065.6 1107.3 L2067.6 1107.4 L2069.6 1107.5 L2071.6 1107.6 L2073.5 1107.7 L2075.5 1107.9 L2077.5 1108.0 L2079.3 1108.1" fill="none" stroke="#000000" stroke-width="5.5" stroke-linejoin="round" stroke-linecap="butt"/>
<path d="M346.0 143.4 L348.0 143.5 L350.0 143.6 L352.0 143.7 L354.0 143.7 L356.0 143.8 L358.0 143.9 L360.0 144.0 L362.0 144.1 L364.0 144.1 L366.0 144.2 L368.0 144.3 L370.0 144.4 L372.0 144.5 L374.0 144.5 L376.0 144.6 L378.0 144.7 L380.0 144.8 L382.0 144.9 L384.0 144.9 L385.9 145.0 L387.9 145.1 L389.9 145.2 L391.9 145.3 L393.9 145.3 L395.9 145.4 L397.9 145.5 L399.9 145.6 L401.9 145.7 L403.9 145.7 L405.9 145.8 L407.9 145.9 L409.9 146.0 L411.9 146.1 L413.9 146.1 L415.9 146.2 L417.9 146.3 L419.9 146.4 L421.9 146.5 L423.9 146.5 L425.9 146.6 L427.9 146.7 L429.9 146.8 L431.9 146.9 L433.9 146.9 L435.9 147.0 L437.9 147.1 L439.9 147.2 L441.9 147.3 L443.9 147.3 L445.9 147.4 L447.9 147.5 L449.9 147.6 L451.9 147.7 L453.9 147.7 L455.9 147.8 L457.9 147.9 L459.9 148.0 L461.9 148.0 L463.9 148.1 L465.9 148.2 L467.9 148.3 L469.9 148.3 L471.9 148.4 L473.9 148.5 L475.9 148.6 L477.9 148.6 L479.9 148.7 L481.9 148.8 L483.9 148.9 L485.9 148.9 L487.9 149.0 L489.9 149.1 L491.9 149.2 L493.9 149.2 L495.9 149.3 L497.9 149.4 L499.9 149.4 L501.9 149.5 L503.9 149.6 L505.9 149.6 L507.9 149.7 L509.9 149.8 L511.9 149.8 L513.9 149.9 L515.9 150.0 L517.9 150.0 L519.9 150.1 L521.9 150.2 L523.9 150.2 L525.9 150.3 L527.9 150.4 L529.9 150.4 L531.9 150.5 L533.9 150.5 L535.9 150.6 L537.9 150.7 L539.9 150.7 L541.9 150.8 L543.9 150.8 L545.9 150.9 L547.9 150.9 L549.9 151.0 L551.9 151.0 L553.9 151.1 L555.9 151.2 L557.9 151.2 L559.9 151.3 L561.9 151.3 L563.9 151.4 L565.9 151.4 L567.9 151.5 L569.9 151.5 L571.9 151.6 L573.9 151.6 L575.9 151.7 L577.9 151.7 L579.9 151.7 L581.9 151.8 L583.9 151.8 L585.9 151.9 L587.9 151.9 L589.9 152.0 L591.8 152.0 L593.8 152.1 L595.8 152.1 L597.8 152.1 L599.8 152.2 L601.8 152.2 L603.8 152.3 L605.8 152.3 L607.8 152.3 L609.8 152.4 L611.8 152.4 L613.8 152.4 L615.8 152.5 L617.8 152.5 L619.8 152.6 L621.8 152.6 L623.8 152.6 L625.8 152.7 L627.8 152.7 L629.8 152.7 L631.8 152.8 L633.8 152.8 L635.8 152.8 L637.8 152.9 L639.8 152.9 L641.8 152.9 L643.8 153.0 L645.8 153.0 L647.8 153.0 L649.8 153.1 L651.8 153.1 L653.8 153.1 L655.8 153.1 L657.8 153.2 L659.8 153.2 L661.8 153.2 L663.8 153.3 L665.8 153.3 L667.8 153.3 L669.8 153.3 L671.8 153.4 L673.8 153.4 L675.8 153.4 L677.8 153.5 L679.8 153.5 L681.8 153.5 L683.8 153.5 L685.8 153.6 L687.8 153.6 L689.8 153.6 L691.8 153.6 L693.8 153.7 L695.8 153.7 L697.8 153.7 L699.8 153.7 L701.8 153.8 L703.8 153.8 L705.8 153.8 L707.8 153.8 L709.8 153.8 L711.8 153.9 L713.8 153.9 L715.8 153.9 L717.8 153.9 L719.7 154.0 L721.7 154.0 L723.7 154.0 L725.7 154.0 L727.7 154.1 L729.7 154.1 L731.7 154.1 L733.7 154.1 L735.7 154.1 L737.7 154.2 L739.7 154.2 L741.7 154.2 L743.7 154.2 L745.7 154.3 L747.7 154.3 L749.7 154.3 L751.7 154.3 L753.7 154.3 L755.7 154.4 L757.7 154.4 L759.7 154.4 L761.7 154.4 L763.7 154.4 L765.7 154.5 L767.7 154.5 L769.7 154.5 L771.7 154.5 L773.7 154.6 L775.7 154.6 L777.7 154.6 L779.7 154.6 L781.7 154.6 L783.7 154.7 L785.7 154.7 L787.7 154.7 L789.7 154.7 L791.7 154.8 L793.7 154.8 L795.7 154.8 L797.7 154.8 L799.8 154.9 L801.8 154.9 L803.8 154.9 L805.8 154.9 L807.8 154.9 L809.8 155.0 L811.8 155.0 L813.8 155.0 L815.8 155.0 L817.8 155.1 L819.8 155.1 L821.8 155.1 L823.8 155.1 L825.8 155.2 L827.8 155.2 L829.8 155.2 L831.8 155.2 L833.8 155.3 L835.8 155.3 L837.8 155.3 L839.8 155.4 L841.8 155.4 L843.8 155.4 L845.8 155.4 L847.8 155.5 L849.8 155.5 L851.8 155.5 L853.8 155.6 L855.8 155.6 L857.8 155.7 L859.8 155.7 L861.8 155.7 L863.8 155.8 L865.8 155.8 L867.8 155.9 L869.8 155.9 L871.8 156.0 L873.8 156.0 L875.8 156.1 L877.8 156.2 L879.8 156.2 L881.8 156.3 L883.8 156.4 L885.8 156.5 L887.8 156.5 L889.8 156.6 L891.8 156.7 L893.8 156.8 L895.8 156.9 L897.8 157.0 L899.8 157.1 L901.8 157.2 L903.8 157.3 L905.8 157.4 L907.8 157.5 L909.8 157.7 L911.8 157.8 L913.8 157.9 L915.8 158.1 L917.8 158.2 L919.8 158.4 L921.8 158.5 L923.8 158.7 L925.8 158.8 L927.8 159.0 L929.8 159.2 L931.8 159.4 L933.8 159.6 L935.7 159.8 L937.7 160.0 L939.7 160.2 L941.7 160.4 L943.7 160.6 L945.7 160.8 L947.7 161.1 L949.7 161.3 L951.7 161.6 L953.6 161.8 L955.6 162.1 L957.6 162.4 L959.6 162.6 L961.6 162.9 L963.6 163.2 L965.5 163.5 L967.5 163.8 L969.5 164.2 L971.5 164.5 L973.4 164.9 L975.4 165.2 L977.4 165.6 L979.3 166.0 L981.2 166.5 L983.2 166.9 L985.1 167.4 L987.0 167.9 L988.9 168.4 L990.8 169.0 L992.7 169.6 L994.6 170.2 L996.5 170.8 L998.3 171.5 L1000.2 172.2 L1002.0 172.9 L1003.8 173.7 L1005.6 174.5 L1007.4 175.4 L1009.2 176.3 L1010.9 177.2 L1012.7 178.1 L1014.4 179.1 L1016.1 180.1 L1017.8 181.2 L1019.5 182.3 L1021.1 183.4 L1022.8 184.5 L1024.4 185.7 L1026.0 186.9 L1027.6 188.1 L1029.1 189.4 L1030.7 190.7 L1032.2 192.0 L1033.7 193.3 L1035.2 194.6 L1036.7 196.0 L1038.1 197.4 L1039.6 198.8 L1041.0 200.3 L1042.4 201.8 L1043.7 203.2 L1045.1 204.7 L1046.4 206.3 L1047.7 207.8 L1049.0 209.3 L1050.2 210.9 L1051.5 212.5 L1052.7 214.1 L1053.9 215.7 L1055.1 217.3 L1056.2 219.0 L1057.3 220.6 L1058.5 222.3 L1059.6 224.0 L1060.6 225.6 L1061.7 227.4 L1062.7 229.1 L1063.7 230.8 L1064.8 232.5 L1065.7 234.3 L1066.7 236.0 L1067.7 237.8 L1068.6 239.6 L1069.5 241.4 L1070.4 243.1 L1071.3 244.9 L1072.2 246.8 L1073.0 248.6 L1073.9 250.4 L1074.7 252.2 L1075.5 254.1 L1076.3 255.9 L1077.1 257.7 L1077.9 259.6 L1078.7 261.4 L1079.4 263.3 L1080.2 265.2 L1080.9 267.0 L1081.6 268.9 L1082.4 270.8 L1083.1 272.7 L1083.8 274.5 L1084.4 276.4 L1085.1 278.3 L1085.8 280.2 L1086.4 282.1 L1087.1 284.0 L1087.7 285.9 L1088.3 287.8 L1089.0 289.7 L1089.6 291.6 L1090.2 293.5 L1090.8 295.4 L1091.4 297.3 L1091.9 299.2 L1092.5 301.1 L1093.1 303.0 L1093.6 304.9 L1094.2 306.9 L1094.7 308.8 L1095.3 310.7 L1095.8 312.6 L1096.3 314.5 L1096.8 316.5 L1097.4 318.4 L1097.9 320.3 L1098.4 322.3 L1098.9 324.2 L1099.4 326.1 L1099.8 328.1 L1100.3 330.0 L1100.8 331.9 L1101.3 333.9 L1101.8 335.8 L1102.2 337.8 L1102.7 339.7 L1103.1 341.6 L1103.6 343.6 L1104.0 345.5 L1104.5 347.5 L1104.9 349.4 L1105.4 351.4 L1105.8 353.3 L1106.3 355.3 L1106.7 357.2 L1107.1 359.2 L1107.6 361.1 L1108.0 363.1 L1108.4 365.0 L1108.9 367.0 L1109.3 368.9 L1109.7 370.9 L1110.1 372.9 L1110.6 374.8 L1111.0 376.8 L1111.4 378.7 L1111.8 380.7 L1112.3 382.6 L1112.7 384.6 L1113.1 386.5 L1113.5 388.5 L1114.0 390.5 L1114.4 392.4 L1114.8 394.4 L1115.2 396.3 L1115.6 398.3 L1116.1 400.2 L1116.5 402.2 L1116.9 404.1 L1117.3 406.1 L1117.7 408.1 L1118.2 410.0 L1118.6 412.0 L1119.0 413.9 L1119.4 415.9 L1119.8 417.8 L1120.3 419.8 L1120.7 421.8 L1121.1 423.7 L1121.5 425.7 L1121.9 427.6 L1122.3 429.6 L1122.7 431.6 L1123.1 433.5 L1123.5 435.5 L1123.9 437.4 L1124.4 439.4 L1124.8 441.4 L1125.2 443.3 L1125.6 445.3 L1126.0 447.2 L1126.4 449.2 L1126.7 451.2 L1127.1 453.1 L1127.5 455.1 L1127.9 457.1 L1128.3 459.0 L1128.7 461.0 L1129.1 462.9 L1129.5 464.9 L1129.9 466.9 L1130.2 468.8 L1130.6 470.8 L1131.0 472.8 L1131.4 474.7 L1131.7 476.7 L1132.1 478.6 L1132.5 480.6 L1132.9 482.6 L1133.2 484.5 L1133.6 486.5 L1134.0 488.5 L1134.3 490.4 L1134.7 492.4 L1135.1 494.4 L1135.4 496.3 L1135.8 498.3 L1136.2 500.3 L1136.5 502.2 L1136.9 504.2 L1137.2 506.2 L1137.6 508.1 L1137.9 510.1 L1138.3 512.1 L1138.7 514.0 L1139.0 516.0 L1139.4 518.0 L1139.7 519.9 L1140.1 521.9 L1140.4 523.9 L1140.8 525.8 L1141.1 527.8 L1141.5 529.8 L1141.8 531.7 L1142.2 533.7 L1142.5 535.7 L1142.9 537.7 L1143.2 539.6 L1143.5 541.6 L1143.9 543.6 L1144.2 545.5 L1144.6 547.5 L1144.9 549.5 L1145.3 551.4 L1145.6 553.4 L1146.0 555.4 L1146.3 557.3 L1146.6 559.3 L1147.0 561.3 L1147.3 563.3 L1147.7 565.2 L1148.0 567.2 L1148.3 569.2 L1148.7 571.1 L1149.0 573.1 L1149.4 575.1 L1149.7 577.0 L1150.1 579.0 L1150.4 581.0 L1150.7 583.0 L1151.1 584.9 L1151.4 586.9 L1151.8 588.9 L1152.1 590.8 L1152.5 592.8 L1152.8 594.8 L1153.1 596.7 L1153.5 598.7 L1153.8 600.7 L1154.2 602.7 L1154.5 604.6 L1154.9 606.6 L1155.2 608.6 L1155.6 610.5 L1155.9 612.5 L1156.3 614.5 L1156.6 616.4 L1156.9 618.4 L1157.3 620.4 L1157.6 622.4 L1158.0 624.3 L1158.4 626.3 L1158.7 628.3 L1159.1 630.2 L1159.4 632.2 L1159.8 634.2 L1160.1 636.1 L1160.5 638.1 L1160.8 640.1 L1161.2 642.1 L1161.6 644.0 L1161.9 646.0 L1162.3 648.0 L1162.6 649.9 L1163.0 651.9 L1163.4 653.9 L1163.7 655.8 L1164.1 657.8 L1164.5 659.8 L1164.8 661.7 L1165.2 663.7 L1165.6 665.7 L1166.0 667.7 L1166.3 669.6 L1166.7 671.6 L1167.1 673.6 L1167.5 675.5 L1167.8 677.5 L1168.2 679.5 L1168.6 681.4 L1169.0 683.4 L1169.4 685.4 L1169.8 687.3 L1170.2 689.3 L1170.6 691.3 L1171.0 693.2 L1171.4 695.2 L1171.8 697.2 L1172.2 699.1 L1172.6 701.1 L1173.0 703.0 L1173.4 705.0 L1173.8 707.0 L1174.3 708.9 L1174.7 710.9 L1175.1 712.8 L1175.6 714.8 L1176.0 716.7 L1176.5 718.7 L1176.9 720.6 L1177.4 722.6 L1177.9 724.5 L1178.3 726.4 L1178.8 728.4 L1179.3 730.3 L1179.8 732.3 L1180.3 734.2 L1180.8 736.1 L1181.4 738.0 L1181.9 740.0 L1182.4 741.9 L1183.0 743.8 L1183.5 745.7 L1184.1 747.6 L1184.6 749.5 L1185.2 751.5 L1185.8 753.4 L1186.4 755.3 L1187.0 757.2 L1187.6 759.0 L1188.3 760.9 L1188.9 762.8 L1189.5 764.7 L1190.2 766.6 L1190.9 768.4 L1191.6 770.3 L1192.2 772.2 L1192.9 774.0 L1193.7 775.9 L1194.4 777.8 L1195.1 779.6 L1195.9 781.5 L1196.6 783.3 L1197.4 785.1 L1198.1 787.0 L1198.9 788.8 L1199.7 790.6 L1200.5 792.5 L1201.3 794.3 L1202.1 796.1 L1203.0 797.9 L1203.8 799.8 L1204.6 801.6 L1205.5 803.4 L1206.3 805.2 L1207.2 807.0 L1208.1 808.8 L1208.9 810.6 L1209.8 812.4 L1210.7 814.2 L1211.6 816.0 L1212.6 817.7 L1213.5 819.5 L1214.4 821.3 L1215.4 823.1 L1216.3 824.8 L1217.3 826.6 L1218.3 828.3 L1219.3 830.1 L1220.3 831.8 L1221.3 833.5 L1222.3 835.2 L1223.3 837.0 L1224.4 838.7 L1225.4 840.4 L1226.5 842.1 L1227.6 843.8 L1228.7 845.4 L1229.8 847.1 L1230.9 848.8 L1232.0 850.4 L1233.2 852.1 L1234.3 853.7 L1235.5 855.4 L1236.6 857.0 L1237.8 858.6 L1239.0 860.2 L1240.3 861.8 L1241.5 863.4 L1242.7 865.0 L1244.0 866.5 L1245.2 868.1 L1246.5 869.6 L1247.8 871.2 L1249.1 872.7 L1250.5 874.2 L1251.8 875.7 L1253.1 877.2 L1254.5 878.6 L1255.9 880.1 L1257.3 881.6 L1258.7 883.0 L1260.1 884.4 L1261.5 885.8 L1262.9 887.2 L1264.4 888.6 L1265.9 890.0 L1267.3 891.3 L1268.8 892.6 L1270.3 893.9 L1271.8 895.2 L1273.4 896.5 L1274.9 897.8 L1276.5 899.0 L1278.0 900.3 L1279.6 901.5 L1281.2 902.7 L1282.8 903.8 L1284.4 905.0 L1286.1 906.1 L1287.7 907.2 L1289.4 908.3 L1291.0 909.4 L1292.7 910.5 L1294.4 911.5 L1296.1 912.5 L1297.8 913.5 L1299.6 914.5 L1301.3 915.4 L1303.1 916.3 L1304.8 917.2 L1306.6 918.1 L1308.4 919.0 L1310.2 919.8 L1312.0 920.6 L1313.8 921.4 L1315.7 922.2 L1317.5 923.0 L1319.4 923.7 L1321.2 924.5 L1323.1 925.2 L1324.9 925.9 L1326.8 926.5 L1328.7 927.2 L1330.6 927.9 L1332.5 928.5 L1334.4 929.1 L1336.3 929.7 L1338.2 930.3 L1340.1 930.9 L1342.1 931.5 L1344.0 932.0 L1345.9 932.6 L1347.9 933.1 L1349.8 933.6 L1351.8 934.2 L1353.7 934.7 L1355.6 935.2 L1357.6 935.7 L1359.5 936.1 L1361.5 936.6 L1363.4 937.1 L1365.4 937.5 L1367.4 938.0 L1369.3 938.4 L1371.3 938.8 L1373.2 939.3 L1375.2 939.7 L1377.1 940.1 L1379.1 940.5 L1381.1 940.9 L1383.0 941.3 L1385.0 941.7 L1387.0 942.1 L1388.9 942.4 L1390.9 942.8 L1392.9 943.2 L1394.8 943.5 L1396.8 943.9 L1398.8 944.2 L1400.7 944.5 L1402.7 944.9 L1404.7 945.2 L1406.6 945.5 L1408.6 945.8 L1410.6 946.2 L1412.6 946.5 L1414.5 946.8 L1416.5 947.1 L1418.5 947.4 L1420.5 947.7 L1422.4 948.0 L1424.4 948.2 L1426.4 948.5 L1428.4 948.8 L1430.4 949.1 L1432.3 949.4 L1434.3 949.6 L1436.3 949.9 L1438.3 950.2 L1440.3 950.4 L1442.2 950.7 L1444.2 951.0 L1446.2 951.2 L1448.2 951.5 L1450.2 951.7 L1452.2 952.0 L1454.1 952.2 L1456.1 952.5 L1458.1 952.7 L1460.1 952.9 L1462.1 953.2 L1464.1 953.4 L1466.0 953.7 L1468.0 953.9 L1470.0 954.1 L1472.0 954.4 L1474.0 954.6 L1476.0 954.8 L1477.9 955.0 L1479.9 955.3 L1481.9 955.5 L1483.9 955.7 L1485.9 955.9 L1487.9 956.1 L1489.9 956.3 L1491.9 956.5 L1493.8 956.7 L1495.8 957.0 L1497.8 957.2 L1499.8 957.4 L1501.8 957.6 L1503.8 957.8 L1505.8 958.0 L1507.8 958.2 L1509.8 958.4 L1511.7 958.5 L1513.7 958.7 L1515.7 958.9 L1517.7 959.1 L1519.7 959.3 L1521.7 959.5 L1523.7 959.7 L1525.7 959.9 L1527.7 960.0 L1529.7 960.2 L1531.6 960.4 L1533.6 960.6 L1535.6 960.7 L1537.6 960.9 L1539.6 961.1 L1541.6 961.3 L1543.6 961.4 L1545.6 961.6 L1547.6 961.8 L1549.6 961.9 L1551.6 962.1 L1553.6 962.3 L1555.6 962.4 L1557.5 962.6 L1559.5 962.7 L1561.5 962.9 L1563.5 963.1 L1565.5 963.2 L1567.5 963.4 L1569.5 963.5 L1571.5 963.7 L1573.5 963.8 L1575.5 964.0 L1577.5 964.1 L1579.5 964.3 L1581.5 964.4 L1583.5 964.6 L1585.5 964.7 L1587.5 964.9 L1589.5 965.0 L1591.5 965.2 L1593.4 965.3 L1595.4 965.4 L1597.4 965.6 L1599.4 965.7 L1601.4 965.9 L1603.4 966.0 L1605.4 966.1 L1607.4 966.3 L1609.4 966.4 L1611.4 966.6 L1613.4 966.7 L1615.4 966.8 L1617.4 967.0 L1619.4 967.1 L1621.4 967.2 L1623.4 967.4 L1625.4 967.5 L1627.4 967.6 L1629.4 967.8 L1631.4 967.9 L1633.4 968.0 L1635.4 968.1 L1637.4 968.3 L1639.4 968.4 L1641.4 968.5 L1643.3 968.7 L1645.3 968.8 L1647.3 968.9 L1649.3 969.0 L1651.3 969.2 L1653.3 969.3 L1655.3 969.4 L1657.3 969.5 L1659.3 969.7 L1661.3 969.8 L1663.3 969.9 L1665.3 970.0 L1667.3 970.2 L1669.3 970.3 L1671.3 970.4 L1673.3 970.5 L1675.3 970.7 L1677.3 970.8 L1679.3 970.9 L1681.3 971.0 L1683.3 971.2 L1685.3 971.3 L1687.3 971.4 L1689.3 971.5 L1691.3 971.6 L1693.3 971.8 L1695.3 971.9 L1697.3 972.0 L1699.3 972.1 L1701.2 972.3 L1703.2 972.4 L1705.2 972.5 L1707.2 972.6 L1709.2 972.7 L1711.2 972.9 L1713.2 973.0 L1715.2 973.1 L1717.2 973.2 L1719.2 973.3 L1721.2 973.5 L1723.2 973.6 L1725.2 973.7 L1727.2 973.8 L1729.2 973.9 L1731.2 974.1 L1733.2 974.2 L1735.2 974.3 L1737.2 974.4 L1739.2 974.5 L1741.2 974.6 L1743.2 974.8 L1745.2 974.9 L1747.2 975.0 L1749.2 975.1 L1751.2 975.2 L1753.2 975.4 L1755.2 975.5 L1757.2 975.6 L1759.1 975.7 L1761.1 975.8 L1763.1 975.9 L1765.1 976.1 L1767.1 976.2 L1769.1 976.3 L1771.1 976.4 L1773.1 976.5 L1775.1 976.6 L1777.1 976.8 L1779.1 976.9 L1781.1 977.0 L1783.1 977.1 L1785.1 977.2 L1787.1 977.3 L1789.1 977.5 L1791.1 977.6 L1793.1 977.7 L1795.1 977.8 L1797.1 977.9 L1799.1 978.0 L1801.1 978.2 L1803.1 978.3 L1805.1 978.4 L1807.1 978.5 L1809.1 978.6 L1811.1 978.7 L1813.1 978.9 L1815.1 979.0 L1817.0 979.1 L1819.0 979.2 L1821.0 979.3 L1823.0 979.5 L1825.0 979.6 L1827.0 979.7 L1829.0 979.8 L1831.0 979.9 L1833.0 980.0 L1835.0 980.2 L1837.0 980.3 L1839.0 980.4 L1841.0 980.5 L1843.0 980.6 L1845.0 980.7 L1847.0 980.9 L1849.0 981.0 L1851.0 981.1 L1853.0 981.2 L1855.0 981.3 L1857.0 981.5 L1859.0 981.6 L1861.0 981.7 L1863.0 981.8 L1865.0 981.9 L1867.0 982.1 L1868.9 982.2 L1870.9 982.3 L1872.9 982.4 L1874.9 982.5 L1876.9 982.7 L1878.9 982.8 L1880.9 982.9 L1882.9 983.0 L1884.9 983.1 L1886.9 983.3 L1888.9 983.4 L1890.9 983.5 L1892.9 983.6 L1894.9 983.7 L1896.9 983.9 L1898.9 984.0 L1900.9 984.1 L1902.9 984.2 L1904.9 984.4 L1906.9 984.5 L1908.9 984.6 L1910.9 984.7 L1912.9 984.8 L1914.9 985.0 L1916.9 985.1 L1918.9 985.2 L1920.8 985.3 L1922.8 985.5 L1924.8 985.6 L1926.8 985.7 L1928.8 985.8 L1930.8 986.0 L1932.8 986.1 L1934.8 986.2 L1936.8 986.3 L1938.8 986.5 L1940.8 986.6 L1942.8 986.7 L1944.8 986.9 L1946.8 987.0 L1948.8 987.1 L1950.8 987.2 L1952.8 987.4 L1954.8 987.5 L1956.8 987.6 L1958.8 987.8 L1960.8 987.9 L1962.8 988.0 L1964.8 988.1 L1966.7 988.3 L1968.7 988.4 L1970.7 988.5 L1972.7 988.7 L1974.7 988.8 L1976.7 988.9 L1978.7 989.1 L1980.7 989.2 L1982.7 989.3 L1984.7 989.5 L1986.7 989.6 L1988.7 989.7 L1990.7 989.9 L1992.7 990.0 L1994.7 990.1 L1996.7 990.3 L1998.7 990.4 L2000.7 990.6 L2002.7 990.7 L2004.7 990.8 L2006.7 991.0 L2008.7 991.1 L2010.7 991.2 L2012.6 991.4 L2014.6 991.5 L2016.6 991.7 L2018.6 991.8 L2020.6 991.9 L2022.6 992.1 L2024.6 992.2 L2026.6 992.4 L2028.6 992.5 L2030.6 992.7 L2032.6 992.8 L2034.6 992.9 L2036.6 993.1 L2038.6 993.2 L2040.6 993.4 L2042.6 993.5 L2044.6 993.7 L2046.6 993.8 L2048.6 994.0 L2050.6 994.1 L2052.5 994.3 L2054.5 994.4 L2056.5 994.6 L2058.5 994.7 L2060.5 994.9 L2062.5 995.0 L2064.5 995.2 L2066.5 995.3 L2068.5 995.5 L2070.5 995.6 L2072.5 995.8 L2074.5 995.9 L2076.5 996.1 L2077.5 996.2" fill="none" stroke="#800000" stroke-width="5.5" stroke-linejoin="round" stroke-linecap="butt"/>
<path d="M345.1 146.4 L347.1 146.4 L349.1 146.5 L351.1 146.6 L353.0 146.6 L355.0 146.7 L357.0 146.8 L359.0 146.8 L361.0 146.9 L363.0 147.0 L365.0 147.1 L367.0 147.1 L369.0 147.2 L371.0 147.3 L373.0 147.3 L375.0 147.4 L377.0 147.5 L379.0 147.6 L380.9 147.6 L382.9 147.7 L384.9 147.8 L386.9 147.9 L388.9 147.9 L390.9 148.0 L392.9 148.1 L394.9 148.1 L396.9 148.2 L398.9 148.3 L400.9 148.4 L402.9 148.4 L404.9 148.5 L406.9 148.6 L408.9 148.7 L410.9 148.7 L412.9 148.8 L414.9 148.9 L416.9 149.0 L418.9 149.0 L420.9 149.1 L422.9 149.2 L424.9 149.3 L426.9 149.3 L428.9 149.4 L430.9 149.5 L432.9 149.6 L434.9 149.6 L436.9 149.7 L438.9 149.8 L440.9 149.9 L442.9 149.9 L444.9 150.0 L446.9 150.1 L448.9 150.2 L450.9 150.2 L452.9 150.3 L454.9 150.4 L456.9 150.5 L458.9 150.5 L460.9 150.6 L462.9 150.7 L464.9 150.8 L466.9 150.8 L468.9 150.9 L470.9 151.0 L472.9 151.1 L474.9 151.1 L476.9 151.2 L478.9 151.3 L480.9 151.3 L482.9 151.4 L484.9 151.5 L486.9 151.6 L488.9 151.6 L490.9 151.7 L492.9 151.8 L494.9 151.9 L496.9 151.9 L498.9 152.0 L500.9 152.1 L502.9 152.1 L504.9 152.2 L506.9 152.3 L508.9 152.4 L510.9 152.4 L512.9 152.5 L514.9 152.6 L516.9 152.6 L518.9 152.7 L520.9 152.8 L522.9 152.9 L524.9 152.9 L526.9 153.0 L528.9 153.1 L530.9 153.1 L532.9 153.2 L534.9 153.3 L536.9 153.3 L538.9 153.4 L540.9 153.5 L542.9 153.5 L544.9 153.6 L546.9 153.7 L548.9 153.8 L550.9 153.8 L552.9 153.9 L554.9 154.0 L556.9 154.0 L558.9 154.1 L560.9 154.1 L562.9 154.2 L564.9 154.3 L566.9 154.3 L568.9 154.4 L570.9 154.5 L572.9 154.5 L574.9 154.6 L576.9 154.7 L578.9 154.7 L580.9 154.8 L582.9 154.8 L584.9 154.9 L586.9 155.0 L588.9 155.0 L590.9 155.1 L592.9 155.1 L594.9 155.2 L596.9 155.3 L598.9 155.3 L600.9 155.4 L602.9 155.4 L604.9 155.5 L606.9 155.5 L608.9 155.6 L610.9 155.7 L612.9 155.7 L614.9 155.8 L616.9 155.8 L618.9 155.9 L620.9 155.9 L622.9 156.0 L624.9 156.0 L626.9 156.1 L628.9 156.1 L630.9 156.2 L632.9 156.2 L634.9 156.3 L636.9 156.3 L638.9 156.4 L640.9 156.4 L642.9 156.5 L644.9 156.5 L646.9 156.6 L648.9 156.6 L650.9 156.7 L652.9 156.7 L654.9 156.7 L656.9 156.8 L658.9 156.8 L660.9 156.9 L662.9 156.9 L664.8 157.0 L666.8 157.0 L668.8 157.0 L670.8 157.1 L672.8 157.1 L674.8 157.2 L676.8 157.2 L678.8 157.2 L680.8 157.3 L682.8 157.3 L684.8 157.4 L686.8 157.4 L688.8 157.4 L690.8 157.5 L692.8 157.5 L694.8 157.6 L696.8 157.6 L698.8 157.6 L700.8 157.7 L702.7 157.7 L704.7 157.7 L706.7 157.8 L708.7 157.8 L710.7 157.8 L712.7 157.9 L714.7 157.9 L716.7 158.0 L718.7 158.0 L720.7 158.0 L722.7 158.1 L724.7 158.1 L726.7 158.1 L728.7 158.2 L730.7 158.2 L732.7 158.2 L734.7 158.3 L736.6 158.3 L738.6 158.3 L740.6 158.4 L742.6 158.4 L744.6 158.5 L746.6 158.5 L748.6 158.5 L750.6 158.6 L752.6 158.6 L754.6 158.6 L756.6 158.7 L758.6 158.7 L760.6 158.7 L762.6 158.8 L764.6 158.8 L766.6 158.9 L768.6 158.9 L770.6 158.9 L772.6 159.0 L774.6 159.0 L776.5 159.0 L778.5 159.1 L780.5 159.1 L782.5 159.2 L784.5 159.2 L786.5 159.2 L788.5 159.3 L790.5 159.3 L792.5 159.4 L794.5 159.4 L796.5 159.4 L798.5 159.5 L800.5 159.5 L802.5 159.6 L804.5 159.6 L806.5 159.7 L808.5 159.7 L810.5 159.8 L812.5 159.8 L814.5 159.8 L816.5 159.9 L818.5 159.9 L820.5 160.0 L822.5 160.0 L824.5 160.1 L826.5 160.1 L828.5 160.2 L830.5 160.2 L832.5 160.3 L834.5 160.3 L836.5 160.4 L838.5 160.4 L840.5 160.5 L842.5 160.5 L844.5 160.6 L846.5 160.6 L848.5 160.7 L850.6 160.8 L852.6 160.8 L854.6 160.9 L856.6 160.9 L858.6 161.0 L860.6 161.1 L862.6 161.1 L864.6 161.2 L866.6 161.2 L868.6 161.3 L870.6 161.4 L872.6 161.4 L874.6 161.5 L876.6 161.6 L878.7 161.6 L880.7 161.7 L882.7 161.8 L884.7 161.8 L886.7 161.9 L888.7 162.0 L890.7 162.1 L892.7 162.1 L894.7 162.2 L896.8 162.3 L898.8 162.4 L900.8 162.4 L902.8 162.5 L904.8 162.6 L906.8 162.7 L908.8 162.8 L910.9 162.8 L912.9 162.9 L914.9 163.0 L916.9 163.1 L918.9 163.2 L920.9 163.3 L923.0 163.4 L925.0 163.4 L927.0 163.5 L929.0 163.6 L931.0 163.7 L933.1 163.9 L935.1 164.0 L937.1 164.1 L939.1 164.2 L941.1 164.4 L943.1 164.5 L945.1 164.7 L947.1 164.9 L949.1 165.1 L951.1 165.3 L953.1 165.5 L955.1 165.7 L957.1 166.0 L959.1 166.2 L961.0 166.5 L963.0 166.8 L965.0 167.2 L966.9 167.5 L968.9 167.9 L970.8 168.3 L972.7 168.7 L974.7 169.1 L976.6 169.6 L978.5 170.1 L980.4 170.6 L982.3 171.2 L984.2 171.8 L986.1 172.4 L988.0 173.0 L989.9 173.7 L991.7 174.4 L993.6 175.1 L995.4 175.8 L997.2 176.6 L999.0 177.4 L1000.8 178.2 L1002.6 179.1 L1004.4 180.0 L1006.1 180.9 L1007.9 181.8 L1009.6 182.8 L1011.3 183.8 L1013.0 184.8 L1014.7 185.8 L1016.3 186.9 L1018.0 188.0 L1019.6 189.1 L1021.2 190.3 L1022.8 191.5 L1024.4 192.6 L1025.9 193.9 L1027.5 195.1 L1029.0 196.4 L1030.5 197.7 L1031.9 199.0 L1033.4 200.4 L1034.8 201.7 L1036.2 203.1 L1037.6 204.6 L1039.0 206.0 L1040.3 207.5 L1041.6 209.0 L1042.9 210.5 L1044.1 212.1 L1045.4 213.6 L1046.6 215.2 L1047.7 216.8 L1048.9 218.5 L1050.0 220.1 L1051.1 221.8 L1052.2 223.5 L1053.2 225.3 L1054.3 227.0 L1055.3 228.8 L1056.2 230.5 L1057.2 232.3 L1058.2 234.1 L1059.1 235.9 L1060.0 237.7 L1060.9 239.5 L1061.8 241.3 L1062.7 243.1 L1063.5 245.0 L1064.4 246.8 L1065.2 248.6 L1066.1 250.5 L1066.9 252.3 L1067.7 254.2 L1068.5 256.0 L1069.3 257.9 L1070.0 259.7 L1070.8 261.6 L1071.5 263.5 L1072.3 265.3 L1073.0 267.2 L1073.7 269.1 L1074.4 271.0 L1075.1 272.8 L1075.8 274.7 L1076.5 276.6 L1077.1 278.5 L1077.8 280.4 L1078.5 282.3 L1079.1 284.2 L1079.7 286.1 L1080.4 288.0 L1081.0 289.9 L1081.6 291.8 L1082.2 293.7 L1082.8 295.6 L1083.4 297.5 L1084.0 299.4 L1084.5 301.3 L1085.1 303.3 L1085.7 305.2 L1086.2 307.1 L1086.8 309.0 L1087.3 310.9 L1087.9 312.9 L1088.4 314.8 L1088.9 316.7 L1089.5 318.6 L1090.0 320.6 L1090.5 322.5 L1091.0 324.4 L1091.5 326.4 L1092.0 328.3 L1092.5 330.2 L1093.0 332.2 L1093.5 334.1 L1094.0 336.0 L1094.5 338.0 L1095.0 339.9 L1095.5 341.8 L1095.9 343.8 L1096.4 345.7 L1096.9 347.7 L1097.4 349.6 L1097.8 351.5 L1098.3 353.5 L1098.8 355.4 L1099.3 357.4 L1099.7 359.3 L1100.2 361.2 L1100.7 363.2 L1101.1 365.1 L1101.6 367.0 L1102.1 369.0 L1102.5 370.9 L1103.0 372.9 L1103.5 374.8 L1103.9 376.7 L1104.4 378.7 L1104.9 380.6 L1105.4 382.5 L1105.8 384.5 L1106.3 386.4 L1106.8 388.4 L1107.3 390.3 L1107.8 392.2 L1108.2 394.2 L1108.7 396.1 L1109.2 398.0 L1109.7 400.0 L1110.2 401.9 L1110.7 403.8 L1111.1 405.7 L1111.6 407.7 L1112.1 409.6 L1112.6 411.5 L1113.1 413.5 L1113.5 415.4 L1114.0 417.3 L1114.5 419.3 L1115.0 421.2 L1115.4 423.1 L1115.9 425.1 L1116.4 427.0 L1116.9 429.0 L1117.3 430.9 L1117.8 432.8 L1118.3 434.8 L1118.7 436.7 L1119.2 438.6 L1119.6 440.6 L1120.1 442.5 L1120.5 444.5 L1121.0 446.4 L1121.4 448.4 L1121.9 450.3 L1122.3 452.3 L1122.7 454.2 L1123.2 456.2 L1123.6 458.1 L1124.0 460.1 L1124.4 462.0 L1124.8 464.0 L1125.3 465.9 L1125.7 467.9 L1126.1 469.8 L1126.5 471.8 L1126.9 473.7 L1127.3 475.7 L1127.7 477.7 L1128.1 479.6 L1128.5 481.6 L1128.8 483.6 L1129.2 485.5 L1129.6 487.5 L1130.0 489.5 L1130.4 491.4 L1130.7 493.4 L1131.1 495.4 L1131.5 497.3 L1131.9 499.3 L1132.2 501.3 L1132.6 503.2 L1133.0 505.2 L1133.3 507.2 L1133.7 509.2 L1134.0 511.1 L1134.4 513.1 L1134.7 515.1 L1135.1 517.1 L1135.5 519.0 L1135.8 521.0 L1136.2 523.0 L1136.5 525.0 L1136.9 526.9 L1137.2 528.9 L1137.5 530.9 L1137.9 532.9 L1138.2 534.9 L1138.6 536.8 L1138.9 538.8 L1139.3 540.8 L1139.6 542.8 L1140.0 544.8 L1140.3 546.7 L1140.6 548.7 L1141.0 550.7 L1141.3 552.7 L1141.7 554.7 L1142.0 556.6 L1142.3 558.6 L1142.7 560.6 L1143.0 562.6 L1143.4 564.6 L1143.7 566.5 L1144.1 568.5 L1144.4 570.5 L1144.7 572.5 L1145.1 574.5 L1145.4 576.4 L1145.8 578.4 L1146.1 580.4 L1146.5 582.4 L1146.8 584.4 L1147.2 586.3 L1147.5 588.3 L1147.9 590.3 L1148.2 592.3 L1148.6 594.3 L1148.9 596.2 L1149.3 598.2 L1149.7 600.2 L1150.0 602.2 L1150.4 604.1 L1150.7 606.1 L1151.1 608.1 L1151.5 610.0 L1151.9 612.0 L1152.2 614.0 L1152.6 616.0 L1153.0 617.9 L1153.4 619.9 L1153.7 621.9 L1154.1 623.8 L1154.5 625.8 L1154.9 627.8 L1155.3 629.7 L1155.7 631.7 L1156.1 633.7 L1156.5 635.6 L1156.9 637.6 L1157.3 639.5 L1157.7 641.5 L1158.1 643.5 L1158.5 645.4 L1158.9 647.4 L1159.4 649.3 L1159.8 651.3 L1160.2 653.2 L1160.7 655.2 L1161.1 657.1 L1161.5 659.1 L1162.0 661.0 L1162.4 663.0 L1162.9 664.9 L1163.3 666.9 L1163.8 668.8 L1164.3 670.8 L1164.7 672.7 L1165.2 674.6 L1165.7 676.6 L1166.2 678.5 L1166.6 680.4 L1167.1 682.4 L1167.6 684.3 L1168.1 686.2 L1168.6 688.2 L1169.1 690.1 L1169.7 692.0 L1170.2 693.9 L1170.7 695.9 L1171.2 697.8 L1171.8 699.7 L1172.3 701.6 L1172.8 703.5 L1173.4 705.5 L1174.0 707.4 L1174.5 709.3 L1175.1 711.2 L1175.7 713.1 L1176.2 715.0 L1176.8 716.9 L1177.4 718.8 L1178.0 720.7 L1178.6 722.6 L1179.2 724.5 L1179.8 726.4 L1180.5 728.3 L1181.1 730.2 L1181.7 732.0 L1182.4 733.9 L1183.0 735.8 L1183.7 737.7 L1184.3 739.6 L1185.0 741.4 L1185.7 743.3 L1186.3 745.2 L1187.0 747.1 L1187.7 748.9 L1188.4 750.8 L1189.1 752.7 L1189.8 754.5 L1190.6 756.4 L1191.3 758.2 L1192.0 760.1 L1192.8 761.9 L1193.5 763.8 L1194.3 765.6 L1195.1 767.5 L1195.9 769.3 L1196.6 771.1 L1197.4 773.0 L1198.2 774.8 L1199.0 776.6 L1199.9 778.5 L1200.7 780.3 L1201.5 782.1 L1202.4 783.9 L1203.2 785.7 L1204.1 787.5 L1204.9 789.3 L1205.8 791.1 L1206.7 792.9 L1207.6 794.7 L1208.5 796.5 L1209.4 798.3 L1210.4 800.1 L1211.3 801.9 L1212.3 803.6 L1213.2 805.4 L1214.2 807.1 L1215.2 808.9 L1216.2 810.6 L1217.2 812.3 L1218.2 814.1 L1219.2 815.8 L1220.3 817.5 L1221.3 819.2 L1222.4 820.9 L1223.5 822.6 L1224.6 824.2 L1225.7 825.9 L1226.8 827.5 L1228.0 829.2 L1229.1 830.8 L1230.3 832.4 L1231.5 834.0 L1232.6 835.6 L1233.9 837.2 L1235.1 838.8 L1236.3 840.4 L1237.6 841.9 L1238.9 843.5 L1240.1 845.0 L1241.5 846.5 L1242.8 848.0 L1244.1 849.5 L1245.5 850.9 L1246.8 852.4 L1248.2 853.8 L1249.6 855.3 L1251.1 856.7 L1252.5 858.1 L1254.0 859.5 L1255.4 860.8 L1256.9 862.2 L1258.4 863.5 L1260.0 864.8 L1261.5 866.1 L1263.0 867.4 L1264.6 868.7 L1266.2 869.9 L1267.8 871.2 L1269.4 872.4 L1271.0 873.6 L1272.7 874.7 L1274.3 875.9 L1276.0 877.0 L1277.6 878.2 L1279.3 879.3 L1281.0 880.4 L1282.7 881.4 L1284.4 882.5 L1286.2 883.5 L1287.9 884.5 L1289.7 885.5 L1291.4 886.5 L1293.2 887.4 L1295.0 888.3 L1296.8 889.2 L1298.5 890.1 L1300.3 891.0 L1302.2 891.8 L1304.0 892.6 L1305.8 893.4 L1307.6 894.2 L1309.5 895.0 L1311.3 895.7 L1313.2 896.4 L1315.0 897.1 L1316.9 897.8 L1318.8 898.4 L1320.7 899.1 L1322.5 899.7 L1324.4 900.3 L1326.3 900.9 L1328.2 901.5 L1330.1 902.1 L1332.1 902.6 L1334.0 903.2 L1335.9 903.7 L1337.8 904.2 L1339.8 904.7 L1341.7 905.2 L1343.6 905.6 L1345.6 906.1 L1347.5 906.5 L1349.5 907.0 L1351.4 907.4 L1353.4 907.8 L1355.3 908.2 L1357.3 908.6 L1359.2 909.0 L1361.2 909.4 L1363.2 909.7 L1365.1 910.1 L1367.1 910.4 L1369.1 910.8 L1371.1 911.1 L1373.0 911.5 L1375.0 911.8 L1377.0 912.1 L1379.0 912.4 L1380.9 912.7 L1382.9 913.1 L1384.9 913.4 L1386.9 913.7 L1388.9 914.0 L1390.8 914.3 L1392.8 914.5 L1394.8 914.8 L1396.8 915.1 L1398.8 915.4 L1400.8 915.7 L1402.7 915.9 L1404.7 916.2 L1406.7 916.5 L1408.7 916.7 L1410.7 917.0 L1412.7 917.2 L1414.6 917.5 L1416.6 917.7 L1418.6 918.0 L1420.6 918.2 L1422.6 918.4 L1424.6 918.7 L1426.6 918.9 L1428.5 919.1 L1430.5 919.4 L1432.5 919.6 L1434.5 919.8 L1436.5 920.0 L1438.5 920.2 L1440.5 920.4 L1442.5 920.6 L1444.5 920.9 L1446.4 921.1 L1448.4 921.3 L1450.4 921.5 L1452.4 921.7 L1454.4 921.9 L1456.4 922.1 L1458.4 922.3 L1460.4 922.4 L1462.4 922.6 L1464.4 922.8 L1466.3 923.0 L1468.3 923.2 L1470.3 923.4 L1472.3 923.6 L1474.3 923.8 L1476.3 923.9 L1478.3 924.1 L1480.3 924.3 L1482.3 924.5 L1484.3 924.7 L1486.3 924.8 L1488.3 925.0 L1490.2 925.2 L1492.2 925.4 L1494.2 925.5 L1496.2 925.7 L1498.2 925.9 L1500.2 926.0 L1502.2 926.2 L1504.2 926.4 L1506.2 926.6 L1508.2 926.7 L1510.2 926.9 L1512.2 927.1 L1514.2 927.2 L1516.2 927.4 L1518.1 927.6 L1520.1 927.7 L1522.1 927.9 L1524.1 928.0 L1526.1 928.2 L1528.1 928.4 L1530.1 928.5 L1532.1 928.7 L1534.1 928.8 L1536.1 929.0 L1538.1 929.2 L1540.1 929.3 L1542.1 929.5 L1544.1 929.6 L1546.1 929.8 L1548.0 929.9 L1550.0 930.1 L1552.0 930.2 L1554.0 930.4 L1556.0 930.5 L1558.0 930.7 L1560.0 930.8 L1562.0 931.0 L1564.0 931.1 L1566.0 931.3 L1568.0 931.4 L1570.0 931.6 L1572.0 931.7 L1574.0 931.9 L1576.0 932.0 L1578.0 932.2 L1580.0 932.3 L1581.9 932.4 L1583.9 932.6 L1585.9 932.7 L1587.9 932.9 L1589.9 933.0 L1591.9 933.1 L1593.9 933.3 L1595.9 933.4 L1597.9 933.6 L1599.9 933.7 L1601.9 933.8 L1603.9 934.0 L1605.9 934.1 L1607.9 934.2 L1609.9 934.4 L1611.9 934.5 L1613.9 934.6 L1615.9 934.8 L1617.9 934.9 L1619.9 935.0 L1621.8 935.2 L1623.8 935.3 L1625.8 935.4 L1627.8 935.6 L1629.8 935.7 L1631.8 935.8 L1633.8 935.9 L1635.8 936.1 L1637.8 936.2 L1639.8 936.3 L1641.8 936.4 L1643.8 936.6 L1645.8 936.7 L1647.8 936.8 L1649.8 936.9 L1651.8 937.1 L1653.8 937.2 L1655.8 937.3 L1657.8 937.4 L1659.8 937.5 L1661.8 937.7 L1663.8 937.8 L1665.8 937.9 L1667.8 938.0 L1669.7 938.1 L1671.7 938.3 L1673.7 938.4 L1675.7 938.5 L1677.7 938.6 L1679.7 938.7 L1681.7 938.8 L1683.7 939.0 L1685.7 939.1 L1687.7 939.2 L1689.7 939.3 L1691.7 939.4 L1693.7 939.5 L1695.7 939.6 L1697.7 939.7 L1699.7 939.9 L1701.7 940.0 L1703.7 940.1 L1705.7 940.2 L1707.7 940.3 L1709.7 940.4 L1711.7 940.5 L1713.7 940.6 L1715.7 940.7 L1717.7 940.8 L1719.7 941.0 L1721.7 941.1 L1723.7 941.2 L1725.7 941.3 L1727.7 941.4 L1729.6 941.5 L1731.6 941.6 L1733.6 941.7 L1735.6 941.8 L1737.6 941.9 L1739.6 942.0 L1741.6 942.1 L1743.6 942.2 L1745.6 942.3 L1747.6 942.4 L1749.6 942.5 L1751.6 942.6 L1753.6 942.7 L1755.6 942.8 L1757.6 942.9 L1759.6 943.0 L1761.6 943.1 L1763.6 943.2 L1765.6 943.3 L1767.6 943.4 L1769.6 943.5 L1771.6 943.6 L1773.6 943.7 L1775.6 943.8 L1777.6 943.9 L1779.6 944.0 L1781.6 944.1 L1783.6 944.2 L1785.6 944.3 L1787.6 944.4 L1789.6 944.5 L1791.6 944.6 L1793.6 944.7 L1795.6 944.8 L1797.6 944.9 L1799.6 945.0 L1801.6 945.1 L1803.6 945.2 L1805.6 945.3 L1807.6 945.4 L1809.5 945.5 L1811.5 945.6 L1813.5 945.7 L1815.5 945.8 L1817.5 945.9 L1819.5 946.0 L1821.5 946.0 L1823.5 946.1 L1825.5 946.2 L1827.5 946.3 L1829.5 946.4 L1831.5 946.5 L1833.5 946.6 L1835.5 946.7 L1837.5 946.8 L1839.5 946.9 L1841.5 947.0 L1843.5 947.1 L1845.5 947.2 L1847.5 947.2 L1849.5 947.3 L1851.5 947.4 L1853.5 947.5 L1855.5 947.6 L1857.5 947.7 L1859.5 947.8 L1861.5 947.9 L1863.5 948.0 L1865.5 948.1 L1867.5 948.2 L1869.5 948.2 L1871.5 948.3 L1873.5 948.4 L1875.5 948.5 L1877.5 948.6 L1879.5 948.7 L1881.5 948.8 L1883.5 948.9 L1885.5 949.0 L1887.5 949.1 L1889.5 949.1 L1891.5 949.2 L1893.5 949.3 L1895.5 949.4 L1897.5 949.5 L1899.5 949.6 L1901.5 949.7 L1903.5 949.8 L1905.5 949.9 L1907.5 949.9 L1909.4 950.0 L1911.4 950.1 L1913.4 950.2 L1915.4 950.3 L1917.4 950.4 L1919.4 950.5 L1921.4 950.6 L1923.4 950.7 L1925.4 950.7 L1927.4 950.8 L1929.4 950.9 L1931.4 951.0 L1933.4 951.1 L1935.4 951.2 L1937.4 951.3 L1939.4 951.4 L1941.4 951.5 L1943.4 951.5 L1945.4 951.6 L1947.4 951.7 L1949.4 951.8 L1951.4 951.9 L1953.4 952.0 L1955.4 952.1 L1957.4 952.2 L1959.4 952.3 L1961.4 952.4 L1963.4 952.4 L1965.4 952.5 L1967.4 952.6 L1969.4 952.7 L1971.4 952.8 L1973.4 952.9 L1975.4 953.0 L1977.4 953.1 L1979.4 953.2 L1981.4 953.3 L1983.4 953.3 L1985.4 953.4 L1987.4 953.5 L1989.4 953.6 L1991.4 953.7 L1993.4 953.8 L1995.4 953.9 L1997.4 954.0 L1999.4 954.1 L2001.4 954.2 L2003.4 954.3 L2005.4 954.4 L2007.4 954.4 L2009.4 954.5 L2011.3 954.6 L2013.3 954.7 L2015.3 954.8 L2017.3 954.9 L2019.3 955.0 L2021.3 955.1 L2023.3 955.2 L2025.3 955.3 L2027.3 955.4 L2029.3 955.5 L2031.3 955.6 L2033.3 955.7 L2035.3 955.8 L2037.3 955.8 L2039.3 955.9 L2041.3 956.0 L2043.3 956.1 L2045.3 956.2 L2047.3 956.3 L2049.3 956.4 L2051.3 956.5 L2053.3 956.6 L2055.3 956.7 L2057.3 956.8 L2059.3 956.9 L2061.3 957.0 L2063.3 957.1 L2065.3 957.2 L2067.3 957.3 L2069.3 957.4 L2071.3 957.5 L2073.3 957.6 L2075.3 957.7 L2077.3 957.8 L2079.3 957.9 L2081.3 958.0 L2083.3 958.1 L2085.3 958.2 L2085.3 958.2" fill="none" stroke="#ff0000" stroke-width="5.5" stroke-linejoin="round" stroke-linecap="butt"/>
<rect x="300" y="16.9" width="2.8" height="1388.2" fill="#a4a4a4"/>
<rect x="302.8" y="16.9" width="5.2" height="1388.2" fill="#000"/>
<rect x="308" y="1397.1" width="1782.7" height="2.8" fill="#a4a4a4"/>
<rect x="300" y="1399.9" width="1790.7" height="5.2" fill="#000"/>
<g stroke="#000" fill="none" stroke-linecap="butt">
<line x1="276.0" y1="1401.3" x2="303" y2="1401.3" stroke-width="6"/>
<line x1="288.0" y1="1275.7" x2="303" y2="1275.7" stroke-width="6"/>
<line x1="276.0" y1="1150.2" x2="303" y2="1150.2" stroke-width="6"/>
<line x1="288.0" y1="1024.6" x2="303" y2="1024.6" stroke-width="6"/>
<line x1="276.0" y1="899.1" x2="303" y2="899.1" stroke-width="6"/>
<line x1="288.0" y1="773.5" x2="303" y2="773.5" stroke-width="6"/>
<line x1="276.0" y1="647.9" x2="303" y2="647.9" stroke-width="6"/>
<line x1="288.0" y1="522.4" x2="303" y2="522.4" stroke-width="6"/>
<line x1="276.0" y1="396.8" x2="303" y2="396.8" stroke-width="6"/>
<line x1="288.0" y1="271.3" x2="303" y2="271.3" stroke-width="6"/>
<line x1="276.0" y1="145.7" x2="303" y2="145.7" stroke-width="6"/>
<line x1="288.0" y1="20.1" x2="303" y2="20.1" stroke-width="6"/>
<line x1="304.5" y1="1400" x2="304.5" y2="1429.5" stroke-width="5.6"/>
<line x1="416.0" y1="1400" x2="416.0" y2="1415.5" stroke-width="5.6"/>
<line x1="527.5" y1="1400" x2="527.5" y2="1429.5" stroke-width="5.6"/>
<line x1="638.9" y1="1400" x2="638.9" y2="1415.5" stroke-width="5.6"/>
<line x1="750.4" y1="1400" x2="750.4" y2="1429.5" stroke-width="5.6"/>
<line x1="861.9" y1="1400" x2="861.9" y2="1415.5" stroke-width="5.6"/>
<line x1="973.3" y1="1400" x2="973.3" y2="1429.5" stroke-width="5.6"/>
<line x1="1084.8" y1="1400" x2="1084.8" y2="1415.5" stroke-width="5.6"/>
<line x1="1196.3" y1="1400" x2="1196.3" y2="1429.5" stroke-width="5.6"/>
<line x1="1307.8" y1="1400" x2="1307.8" y2="1415.5" stroke-width="5.6"/>
<line x1="1419.2" y1="1400" x2="1419.2" y2="1429.5" stroke-width="5.6"/>
<line x1="1530.7" y1="1400" x2="1530.7" y2="1415.5" stroke-width="5.6"/>
<line x1="1642.2" y1="1400" x2="1642.2" y2="1429.5" stroke-width="5.6"/>
<line x1="1753.7" y1="1400" x2="1753.7" y2="1415.5" stroke-width="5.6"/>
<line x1="1865.1" y1="1400" x2="1865.1" y2="1429.5" stroke-width="5.6"/>
<line x1="1976.6" y1="1400" x2="1976.6" y2="1415.5" stroke-width="5.6"/>
<line x1="2088.1" y1="1400" x2="2088.1" y2="1429.5" stroke-width="5.6"/>
</g>
<g font-size="50.5">
<text x="260" y="1412.2" text-anchor="end">0</text>
<text x="260" y="1161.1" text-anchor="end">20</text>
<text x="260" y="910.0" text-anchor="end">40</text>
<text x="260" y="658.8" text-anchor="end">60</text>
<text x="260" y="407.7" text-anchor="end">80</text>
<text x="260" y="156.6" text-anchor="end">100</text>
<text x="304.5" y="1486" text-anchor="middle">0</text>
<text x="527.5" y="1486" text-anchor="middle">100</text>
<text x="750.4" y="1486" text-anchor="middle">200</text>
<text x="973.3" y="1486" text-anchor="middle">300</text>
<text x="1196.3" y="1486" text-anchor="middle">400</text>
<text x="1419.2" y="1486" text-anchor="middle">500</text>
<text x="1642.2" y="1486" text-anchor="middle">600</text>
<text x="1865.1" y="1486" text-anchor="middle">700</text>
<text x="2088.1" y="1486" text-anchor="middle">800</text>
</g>
<text transform="translate(1194 1592.5) scale(1 1.03)" font-size="65" text-anchor="middle" style="stroke-width:1.3px">Temperature</text>
<text transform="translate(79.5 721) rotate(-90) scale(1 1.024)" font-size="66.5" text-anchor="middle" style="stroke-width:1.3px">Weigh (%)</text>
<line x1="1548" y1="64.6" x2="1692.5" y2="64.6" stroke="#0000ff" stroke-width="6"/>
<text x="1708" y="84.5" font-size="50.5">17.0 wt% CF/C</text>
<line x1="1548" y1="144.0" x2="1692.5" y2="144.0" stroke="#000000" stroke-width="6"/>
<text x="1708" y="165.5" font-size="50.5">23.3 wt% CF/C</text>
<line x1="1548" y1="224.0" x2="1692.5" y2="224.0" stroke="#800000" stroke-width="6"/>
<text x="1708" y="247.0" font-size="50.5">32.2 wt% CF/C</text>
<line x1="1548" y1="305.4" x2="1692.5" y2="305.4" stroke="#ff0000" stroke-width="6"/>
<text x="1708" y="326.3" font-size="50.5">35.2 wt% CF/C</text>
</svg>
</body></html>
